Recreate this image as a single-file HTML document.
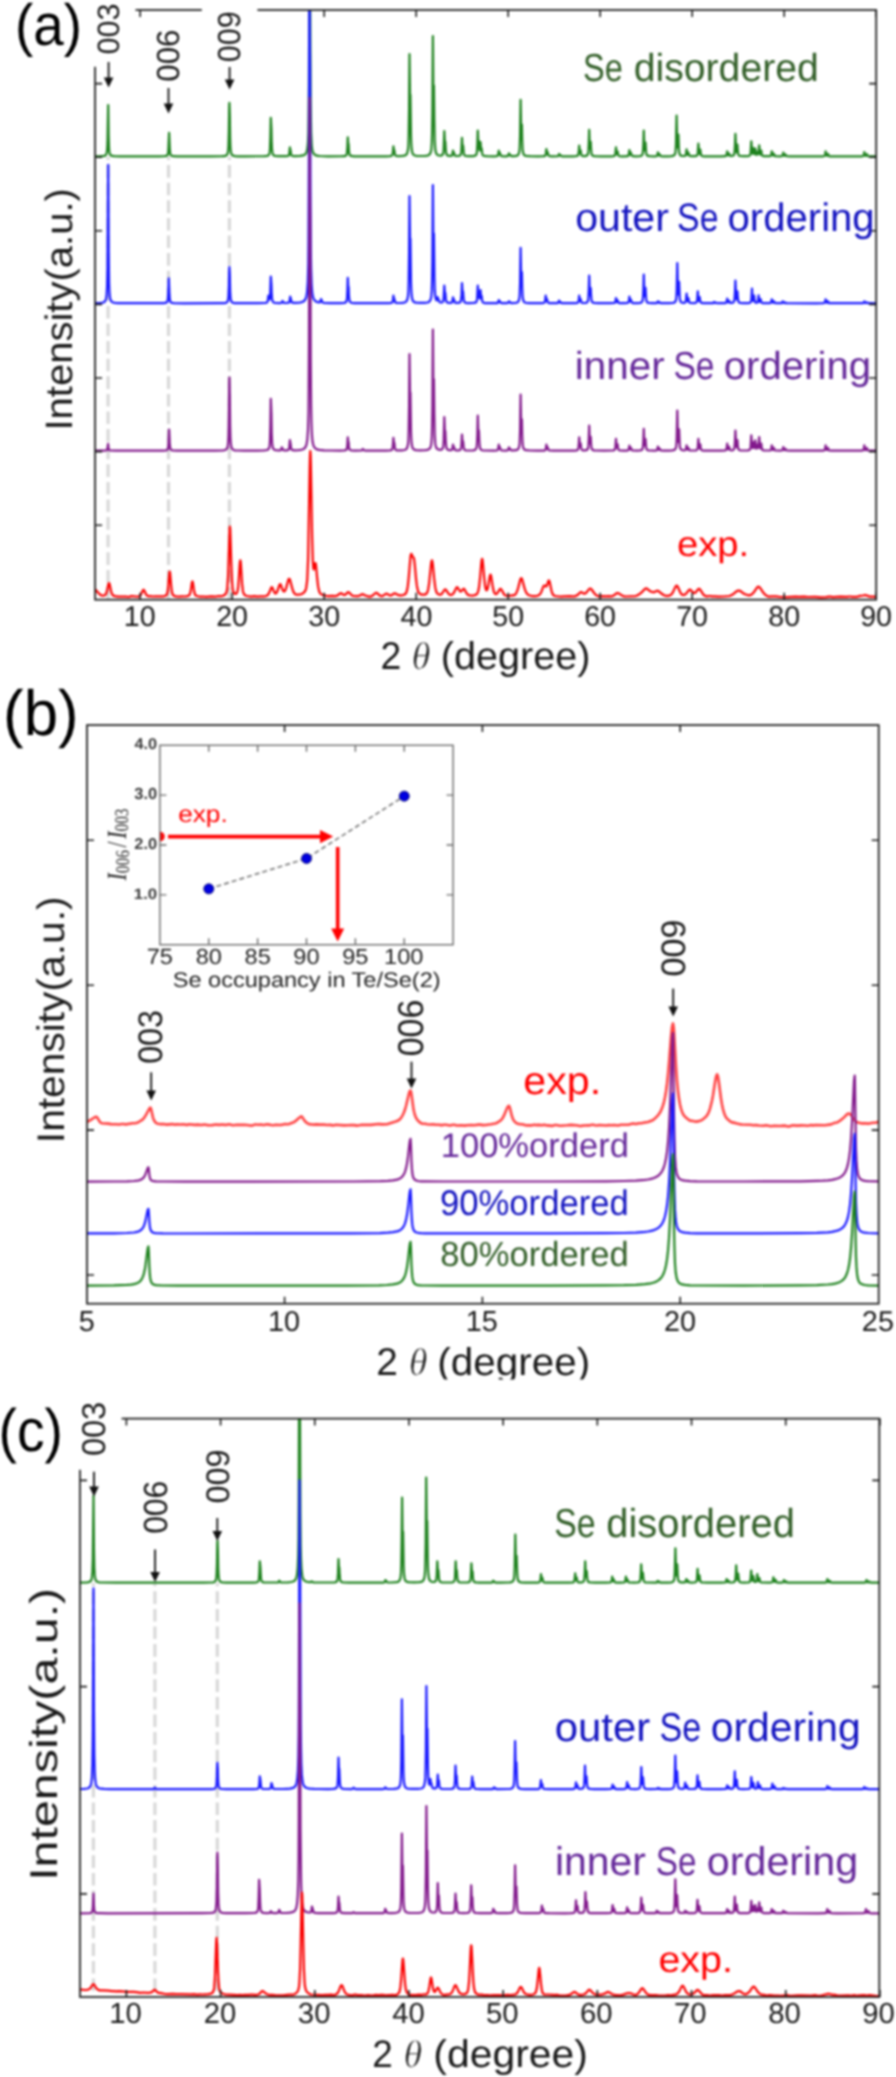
<!DOCTYPE html>
<html><head><meta charset="utf-8"><title>XRD figure</title>
<style>html,body{margin:0;padding:0;background:#fff;}svg{display:block;}</style>
</head><body>
<svg width="896" height="2077" viewBox="0 0 896 2077">
<defs><filter id="bl" filterUnits="userSpaceOnUse" x="0" y="0" width="896" height="2077" color-interpolation-filters="sRGB"><feGaussianBlur stdDeviation="0.9"/></filter></defs>
<rect width="896" height="2077" fill="#fff"/>
<g filter="url(#bl)">
<rect width="896" height="2077" fill="#fff"/>
<defs>
<clipPath id="cA"><rect x="95.1" y="10" width="781.1" height="589.7"/></clipPath>
<clipPath id="cB"><rect x="87" y="725.1" width="791.7" height="578.6"/></clipPath>
<clipPath id="cC"><rect x="80" y="1418.6" width="799.3" height="578.4"/></clipPath>
<clipPath id="clipxl"><rect x="0" y="1300" width="896" height="79.5"/></clipPath>
<clipPath id="cI"><rect x="159.9" y="745.3" width="293.2" height="199.4"/></clipPath>
</defs>
<path d="M108.1,157V599M168.5,157V599M229.4,157V599" stroke="#d8d8d8" stroke-width="3.2" stroke-dasharray="12.6 5.0" stroke-dashoffset="9.5" fill="none"/>
<g clip-path="url(#cA)"><path d="M95.1,156.4L101.1,156.2L104.3,155.9L105.1,155.6L105.8,155.0L106.1,154.6L106.6,153.4L107.1,150.1L107.5,142.9L108.2,105.1L108.6,135.4L109.0,147.6L109.2,150.6L109.6,153.0L110.1,154.4L110.5,155.1L111.1,155.5L112.1,155.9L114.1,156.2L120.1,156.3L159.1,156.4L164.1,156.2L166.1,156.0L167.0,155.5L167.5,155.0L167.9,154.0L168.2,152.5L168.5,147.4L169.1,132.8L169.7,147.8L170.1,152.6L170.5,154.6L171.1,155.4L171.6,155.8L173.1,156.2L177.1,156.3L211.1,156.4L222.1,156.2L224.1,156.1L226.0,155.6L227.1,154.7L227.8,153.0L228.2,150.1L228.5,145.6L228.9,130.5L229.2,106.4L229.4,102.8L229.8,116.1L230.1,137.8L230.4,146.8L230.8,151.3L231.1,152.9L231.6,154.3L232.1,155.0L233.1,155.7L235.1,156.1L238.1,156.3L245.1,156.3L264.1,156.2L267.0,155.9L268.1,155.5L268.5,155.2L269.3,153.9L269.7,152.2L270.0,148.4L270.4,137.4L270.8,117.8L271.4,129.2L271.7,143.4L272.1,150.2L272.5,153.1L272.9,154.3L273.6,155.3L274.1,155.6L275.2,155.9L278.1,156.2L286.1,156.2L287.6,156.0L288.2,155.8L288.8,155.3L289.0,154.9L289.3,153.5L289.9,147.3L290.2,149.3L290.5,150.1L291.1,154.3L291.4,155.2L292.0,155.8L292.8,156.0L294.3,156.1L300.1,155.9L303.1,155.4L304.1,155.0L305.1,154.4L305.7,153.8L306.4,152.6L307.2,149.6L307.9,143.7L308.4,133.0L308.6,119.1L308.9,88.8L309.5,-60.0L309.9,-1.8L310.2,12.5L310.6,99.7L311.1,132.5L311.7,145.1L312.1,148.8L312.4,150.6L313.1,152.7L314.0,154.0L315.1,154.9L316.1,155.4L318.1,155.8L320.1,156.0L328.1,156.3L342.1,156.2L344.1,156.1L345.5,155.8L346.3,155.1L346.7,154.3L347.0,152.3L347.4,146.8L347.8,137.3L348.2,143.5L348.3,144.2L348.5,144.0L348.6,144.3L348.9,150.3L349.3,153.6L349.7,154.8L350.1,155.4L351.1,155.9L354.1,156.3L364.1,156.3L386.1,156.3L389.6,156.2L391.1,156.0L392.1,155.4L392.6,154.2L393.0,151.3L393.4,146.3L393.9,150.7L394.0,150.7L394.2,150.2L394.3,150.2L394.9,154.3L395.1,155.0L395.7,155.7L396.6,156.0L398.1,156.1L402.1,156.0L404.1,155.7L405.1,155.4L406.1,154.8L406.6,154.2L407.2,153.1L408.0,149.6L408.4,145.3L408.7,135.0L409.1,107.5L409.5,54.2L410.1,102.0L410.4,94.9L410.4,95.1L411.0,136.6L411.2,142.2L411.6,148.5L412.0,151.3L412.7,153.7L413.3,154.5L414.2,155.2L416.1,155.8L420.1,156.0L425.1,155.9L427.1,155.6L428.1,155.4L429.1,154.8L430.1,153.7L430.6,152.5L431.1,150.5L431.4,148.4L431.8,143.3L432.1,133.1L432.4,113.6L432.9,36.2L433.3,89.5L433.5,97.3L433.9,85.6L434.3,120.1L434.7,140.0L435.2,148.7L435.4,150.5L436.1,153.1L436.7,154.1L437.1,154.6L438.1,155.2L439.1,155.5L440.5,155.6L441.5,155.4L442.0,155.2L442.8,154.4L443.2,153.4L443.5,150.9L443.7,148.3L444.3,131.2L444.9,144.2L445.0,144.3L445.3,141.6L445.8,150.3L446.1,152.8L446.5,154.3L447.1,155.2L448.1,155.7L449.2,155.9L450.7,155.9L451.8,155.6L452.1,155.3L452.4,154.4L453.0,150.7L453.5,153.4L453.7,153.7L454.1,153.0L454.6,155.1L455.2,155.8L456.3,156.0L458.2,156.0L459.7,155.7L460.5,155.1L460.9,154.3L461.1,153.3L461.4,150.5L462.0,137.9L462.5,147.5L462.7,148.0L463.0,145.7L463.1,145.7L463.7,152.7L463.8,153.8L464.3,155.0L464.6,155.4L465.4,155.8L466.1,156.0L468.1,156.2L473.1,156.1L474.1,155.9L475.5,155.4L476.3,154.5L476.7,153.5L477.0,150.8L477.4,143.6L477.8,130.6L478.4,144.6L478.6,144.7L478.9,141.0L479.4,148.2L479.5,149.7L479.7,150.5L479.9,149.9L480.1,148.6L480.5,142.0L481.1,149.8L481.2,150.2L481.3,150.1L481.6,148.3L482.2,153.5L482.7,155.1L483.2,155.5L484.3,156.0L487.1,156.2L494.1,156.3L496.1,156.2L497.1,156.0L497.7,155.7L498.1,155.0L498.8,150.7L499.4,153.9L499.6,154.0L500.0,153.1L500.6,155.3L501.1,155.9L501.5,156.1L502.6,156.2L505.1,156.3L507.1,156.2L507.8,156.0L508.3,155.3L508.9,153.3L509.5,155.0L509.7,155.1L510.1,154.6L510.7,155.7L511.1,156.0L511.6,156.1L513.9,156.1L516.1,155.9L517.1,155.6L518.1,154.9L518.3,154.6L519.1,152.6L519.6,149.0L519.8,144.6L520.1,135.3L520.6,99.8L521.2,133.3L521.3,135.4L521.4,135.6L521.5,134.2L521.9,124.7L522.2,140.0L522.6,149.1L522.9,151.6L523.4,153.8L524.1,155.0L524.4,155.2L525.1,155.6L526.1,155.9L530.1,156.2L538.1,156.3L543.1,156.2L544.1,156.1L544.9,155.9L545.5,155.3L545.8,154.0L546.4,149.0L546.8,152.3L547.1,153.8L547.2,153.9L547.4,153.6L547.7,152.3L548.3,155.0L548.7,155.7L549.3,156.0L550.2,156.2L552.1,156.3L557.6,156.2L558.2,156.0L558.5,155.6L559.1,154.0L559.7,155.5L559.9,155.6L560.1,155.5L560.5,155.1L561.1,156.0L562.0,156.3L573.1,156.3L575.4,156.2L576.8,156.0L577.7,155.6L578.1,155.2L578.4,154.1L578.8,150.9L579.2,145.6L579.6,150.5L579.9,152.8L580.1,153.1L580.3,152.5L580.6,150.4L581.2,154.3L581.5,155.1L581.8,155.6L582.2,155.8L582.9,156.0L584.1,156.1L586.1,155.9L586.9,155.5L587.7,154.6L588.1,153.5L588.4,150.9L588.8,143.0L589.2,129.9L589.6,142.2L589.9,148.2L590.1,148.6L590.3,147.2L590.7,141.9L591.1,149.7L591.4,153.1L591.8,154.6L592.1,155.1L593.1,155.8L595.1,156.2L601.1,156.3L611.1,156.3L613.1,156.2L614.1,156.0L614.9,155.4L615.3,154.3L616.0,147.3L616.4,152.0L616.8,153.8L617.0,153.9L617.1,153.7L617.6,151.5L618.1,154.7L618.3,155.3L618.7,155.8L619.1,156.0L621.1,156.3L624.1,156.3L627.1,156.2L627.9,155.9L628.3,155.7L628.7,154.8L629.4,150.0L629.9,153.6L630.1,154.5L630.3,154.7L630.5,154.5L631.0,152.9L631.6,155.2L632.2,155.9L633.3,156.2L636.1,156.3L639.1,156.2L641.1,155.8L641.7,155.5L642.3,154.7L642.7,153.6L643.0,151.0L643.4,143.4L643.8,130.6L644.3,146.4L644.6,149.4L644.7,150.1L644.9,149.5L645.5,142.5L646.1,152.4L646.6,154.7L647.1,155.4L648.1,155.9L650.1,156.2L654.1,156.3L656.4,156.1L656.8,155.9L657.1,155.6L657.3,155.1L657.9,152.3L658.3,154.2L658.7,155.3L658.9,155.4L659.1,155.3L659.6,154.2L660.2,155.6L660.4,155.8L661.1,156.2L663.1,156.3L668.1,156.3L671.1,156.1L672.8,155.9L674.1,155.3L674.6,154.8L675.1,153.7L675.5,152.0L675.8,147.9L676.0,143.6L676.6,115.5L677.1,140.1L677.4,145.9L677.6,147.5L677.8,146.6L678.4,134.6L678.9,149.2L679.1,151.5L679.5,153.7L679.9,154.6L680.4,155.3L681.1,155.7L682.1,155.9L684.3,156.0L685.1,155.8L685.5,155.5L685.8,154.8L686.0,154.1L686.6,149.3L687.2,153.9L687.4,154.5L687.7,154.8L687.8,154.7L688.0,154.1L688.4,152.6L689.1,155.3L689.6,155.8L689.9,156.0L692.1,156.2L694.6,156.2L696.1,156.0L696.9,155.5L697.3,155.0L697.6,153.7L697.8,152.4L698.4,143.7L698.8,149.8L699.2,153.2L699.5,153.8L699.7,153.5L700.3,149.7L700.7,153.3L701.0,154.9L701.4,155.5L702.1,156.0L704.1,156.3L708.1,156.3L721.1,156.3L725.1,156.2L726.1,155.8L726.4,155.3L726.8,153.8L727.2,151.3L727.6,154.1L728.1,155.3L728.3,155.4L728.6,155.2L729.2,153.6L729.7,155.4L730.1,155.8L730.7,156.0L731.4,156.0L733.0,155.7L733.6,155.3L734.1,154.5L734.6,151.7L735.0,145.0L735.4,133.8L735.9,147.1L736.3,151.6L736.5,152.3L736.8,151.5L737.4,144.5L737.8,150.3L738.2,153.7L738.5,154.9L738.9,155.4L740.1,156.0L743.1,156.2L747.1,156.2L749.0,155.9L749.8,155.4L750.2,154.7L750.5,153.2L750.7,151.6L751.3,141.4L751.9,151.3L752.1,152.9L752.4,153.7L752.6,153.6L752.8,152.9L753.4,148.2L753.8,152.2L754.2,153.9L754.5,154.0L754.7,153.3L755.3,148.7L755.9,153.5L756.1,154.4L756.4,154.8L756.8,154.4L757.4,152.0L757.8,153.6L757.9,154.1L758.1,154.2L758.4,153.6L758.6,152.6L759.2,145.4L759.7,151.6L760.1,154.1L760.3,154.5L760.5,154.4L760.7,154.0L761.3,150.7L761.7,153.4L762.1,155.2L762.4,155.6L762.8,155.9L764.1,156.2L769.1,156.2L770.1,156.1L770.7,155.8L771.0,155.3L771.2,154.8L771.8,151.3L772.4,154.7L772.8,155.5L773.1,155.5L773.4,155.3L773.9,153.7L774.3,155.0L774.7,155.8L775.1,156.1L776.1,156.2L780.1,156.3L781.1,156.2L782.1,156.0L782.5,155.6L782.7,155.2L783.3,152.6L783.7,154.4L784.1,155.6L784.4,155.8L784.8,155.7L785.5,154.4L786.1,155.8L786.6,156.1L787.1,156.2L790.1,156.4L801.1,156.4L819.1,156.4L823.1,156.3L824.2,156.0L824.5,155.9L824.8,155.4L825.1,154.5L825.6,151.3L826.1,154.5L826.5,155.4L826.8,155.7L827.2,155.6L827.6,155.0L828.0,153.8L828.4,155.0L828.7,155.8L829.1,156.1L830.1,156.3L852.1,156.4L862.1,156.3L863.1,156.0L863.5,155.5L863.9,154.2L864.3,152.0L864.9,155.0L865.1,155.5L865.4,155.8L865.8,155.9L866.3,155.6L866.9,154.1L867.4,155.7L868.1,156.2L870.1,156.3L876.2,156.4" stroke="rgb(30,130,30)" stroke-width="2.2" fill="none" stroke-linejoin="round" /><path d="M95.1,303.2L101.1,302.9L103.1,302.5L104.3,301.9L105.1,301.1L105.8,299.6L106.1,298.5L106.6,295.3L107.1,286.2L107.5,267.0L108.2,164.9L108.7,252.3L109.1,283.2L109.4,290.8L109.8,295.8L110.1,298.0L110.5,299.7L111.1,300.9L112.0,301.9L113.1,302.5L115.1,302.9L118.1,303.1L122.1,303.2L159.1,303.2L164.1,303.1L166.1,302.7L166.7,302.4L167.2,301.8L167.6,300.8L167.9,298.5L168.2,293.8L168.8,278.4L169.4,294.2L169.8,299.3L170.2,301.4L170.5,302.0L171.3,302.6L172.5,303.0L174.1,303.1L184.1,303.3L219.1,303.2L224.1,303.1L226.0,302.8L227.1,302.1L227.8,301.0L228.2,299.0L228.5,296.0L228.9,285.7L229.2,269.4L229.4,267.0L229.8,276.0L230.1,290.7L230.5,297.6L230.8,299.8L231.3,301.3L232.0,302.3L233.1,302.8L235.1,303.1L238.1,303.2L258.1,303.2L264.6,303.0L266.1,302.8L266.9,302.5L267.4,301.9L267.8,300.7L268.4,295.6L269.0,297.2L269.3,299.1L269.5,299.4L269.7,299.2L269.9,298.2L270.2,294.6L270.8,276.5L271.4,284.5L271.7,294.2L272.1,298.9L272.3,300.2L272.8,301.5L273.1,302.0L273.6,302.5L274.6,302.8L276.1,303.0L279.1,303.1L281.0,303.0L281.6,302.8L281.9,302.5L282.5,301.0L283.1,301.7L283.6,302.6L284.1,302.9L286.4,303.0L288.5,302.7L289.1,302.4L289.3,302.1L289.6,301.1L290.2,296.6L290.5,298.1L290.8,298.6L291.4,301.7L291.7,302.3L292.5,302.7L294.0,302.9L296.1,302.9L299.1,302.6L301.1,302.3L303.1,301.6L304.1,301.0L305.1,299.8L305.6,298.9L306.3,297.0L307.1,292.1L307.8,282.0L308.3,264.1L308.5,240.6L308.9,161.6L309.4,-60.0L309.8,37.6L310.1,69.6L310.5,208.2L310.8,249.4L311.1,268.8L311.6,284.3L312.3,293.6L313.1,297.4L313.9,299.3L315.1,300.9L316.1,301.6L318.1,302.2L319.1,302.3L319.9,302.2L320.2,302.0L320.4,301.5L321.0,299.0L321.4,300.1L321.7,300.4L322.1,301.7L322.5,302.3L323.1,302.7L324.0,302.8L330.1,303.1L340.1,303.1L344.0,302.9L344.8,302.8L345.5,302.4L346.3,301.6L346.7,300.5L347.0,297.9L347.4,290.6L347.8,277.9L348.2,286.1L348.3,287.0L348.5,286.8L348.6,287.1L348.9,295.2L349.3,299.6L349.7,301.2L350.1,301.9L351.1,302.7L352.4,303.0L354.1,303.1L360.1,303.2L385.1,303.2L389.1,303.1L391.1,303.0L392.1,302.5L392.6,301.6L393.0,299.4L393.4,295.6L393.9,298.9L394.3,298.6L394.9,301.6L395.1,302.2L395.7,302.7L396.6,302.9L398.1,303.0L402.1,302.9L404.1,302.6L405.1,302.2L406.1,301.6L406.6,301.0L407.2,299.8L408.0,296.2L408.4,291.6L408.7,280.9L409.1,252.1L409.5,196.2L410.1,246.3L410.4,238.8L410.4,239.1L411.0,282.5L411.2,288.5L411.6,295.0L412.0,297.9L412.7,300.5L413.3,301.4L414.2,302.1L416.1,302.6L420.1,302.9L425.1,302.8L427.1,302.5L428.1,302.3L429.1,301.8L430.1,300.6L430.6,299.5L431.1,297.5L431.4,295.4L431.8,290.4L432.1,280.4L432.4,261.2L432.9,185.2L433.3,237.5L433.5,245.2L433.9,233.7L434.4,277.2L434.8,290.7L435.3,296.7L436.1,299.7L436.5,300.2L436.7,300.3L437.0,299.9L437.6,297.0L438.1,299.6L438.2,299.8L438.6,299.4L439.2,301.5L439.8,302.2L440.1,302.3L441.1,302.5L442.1,302.3L442.8,301.8L443.2,301.1L443.5,299.3L443.7,297.5L444.3,285.6L444.9,294.7L445.0,294.8L445.3,292.9L445.9,299.7L446.1,300.7L446.5,301.8L446.9,302.2L447.6,302.7L449.1,302.9L450.7,302.9L451.8,302.5L452.1,302.2L452.4,301.3L453.0,297.3L453.5,300.2L453.7,300.4L454.1,299.7L454.6,302.0L455.1,302.6L456.1,302.9L457.9,302.9L459.3,302.7L460.1,302.3L460.5,301.9L460.8,301.2L461.2,299.0L461.6,294.4L462.0,283.2L462.6,294.0L462.7,294.2L463.1,291.7L463.5,298.0L463.8,300.5L464.3,301.8L464.6,302.3L465.4,302.7L466.1,302.9L468.1,303.1L473.1,303.0L475.1,302.7L475.5,302.6L476.3,302.0L476.7,301.1L477.0,299.4L477.2,297.6L477.8,285.6L478.4,295.1L478.6,295.2L478.9,292.6L479.4,297.3L479.5,298.2L479.7,298.5L480.1,296.4L480.5,290.0L481.1,297.4L481.2,297.6L481.3,297.5L481.6,295.8L482.1,300.0L482.4,301.4L482.7,302.1L483.1,302.5L483.9,302.8L485.4,303.1L489.1,303.2L495.0,303.2L497.1,303.1L497.7,302.9L498.1,302.5L498.8,300.0L499.4,301.9L499.6,301.9L500.0,301.4L500.4,302.3L500.8,302.8L501.1,303.0L502.1,303.1L506.1,303.2L507.8,303.0L508.3,302.6L508.9,301.3L509.5,302.4L509.7,302.4L510.1,302.1L510.7,302.8L511.6,303.1L514.1,303.0L516.1,302.8L517.1,302.5L518.1,301.8L518.3,301.5L519.1,299.6L519.6,296.1L519.8,291.7L520.1,282.6L520.6,247.8L521.2,280.7L521.3,282.7L521.4,282.9L521.5,281.6L521.9,272.2L522.2,287.3L522.6,296.1L522.9,298.6L523.4,300.7L524.1,301.9L524.4,302.2L525.1,302.5L526.1,302.8L530.1,303.1L538.1,303.2L542.1,303.2L543.4,303.0L544.1,302.8L544.8,302.1L545.1,301.0L545.7,295.6L546.3,300.3L546.5,300.7L546.7,300.4L547.0,299.0L547.4,301.1L547.8,302.3L548.2,302.7L549.1,303.1L553.1,303.2L557.5,303.1L558.1,302.8L558.4,302.4L559.0,300.6L559.6,302.3L559.8,302.4L560.0,302.3L560.4,301.8L560.9,302.8L561.3,303.0L561.9,303.1L573.1,303.2L575.4,303.2L577.1,303.0L577.7,302.7L578.1,302.4L578.4,301.7L578.8,299.4L579.2,295.6L579.6,299.1L579.9,300.7L580.1,300.9L580.3,300.5L580.6,299.0L581.2,301.8L581.5,302.4L581.8,302.7L582.9,303.0L584.4,303.0L586.1,302.8L586.9,302.4L587.7,301.5L588.1,300.3L588.4,297.5L588.8,289.3L589.2,275.5L589.6,288.4L589.9,294.7L590.1,295.1L590.3,293.6L590.7,288.1L591.1,296.2L591.4,299.8L591.8,301.4L592.1,301.9L593.0,302.6L594.5,303.0L598.1,303.2L610.1,303.2L614.1,303.0L614.9,302.7L615.3,302.1L616.0,298.0L616.4,300.7L616.8,301.8L617.0,301.8L617.1,301.7L617.6,300.4L618.1,302.2L618.3,302.6L618.7,302.9L619.8,303.1L621.4,303.2L625.1,303.2L627.1,303.0L628.1,302.7L628.6,301.9L629.0,299.9L629.4,296.6L629.9,300.4L630.1,301.3L630.3,301.5L630.4,301.5L630.5,301.3L631.0,299.7L631.6,302.1L632.2,302.8L633.1,303.1L634.8,303.1L638.1,303.1L640.1,302.9L641.5,302.4L642.3,301.4L642.7,300.2L643.0,297.3L643.4,288.8L643.8,274.5L644.3,292.1L644.6,295.5L644.7,296.2L644.9,295.6L645.5,287.8L646.1,298.9L646.6,301.4L647.1,302.2L648.1,302.8L649.3,303.0L652.1,303.2L656.1,303.1L657.1,302.8L657.5,302.3L657.9,301.3L658.3,302.2L658.7,302.7L659.1,302.7L659.6,302.2L660.2,302.9L661.1,303.2L669.1,303.2L672.1,303.0L673.5,302.8L674.1,302.6L675.0,302.0L675.3,301.7L675.8,300.7L676.2,299.0L676.5,295.0L676.7,290.6L677.3,263.0L677.7,282.2L678.1,293.4L678.3,294.5L678.5,293.7L679.1,281.8L679.6,295.0L679.8,298.4L680.1,300.1L680.6,301.6L681.1,302.2L682.1,302.6L683.1,302.8L684.3,302.8L685.1,302.5L685.5,302.1L685.8,301.2L686.0,300.2L686.6,293.7L687.2,299.9L687.4,300.8L687.7,301.2L687.8,301.0L688.0,300.3L688.4,298.2L689.1,301.9L689.6,302.6L689.9,302.8L691.1,303.0L694.0,303.1L695.1,303.0L696.1,302.6L696.7,302.0L697.1,300.5L697.8,291.4L698.2,297.1L698.6,300.3L698.9,300.8L699.1,300.5L699.7,297.0L700.1,300.5L700.4,301.9L700.8,302.5L701.6,302.9L703.1,303.1L705.1,303.2L712.5,303.2L713.1,303.1L713.4,302.9L714.0,302.0L714.6,302.8L715.1,303.0L715.5,302.9L715.9,302.6L716.5,303.0L717.4,303.2L722.1,303.2L725.1,303.1L726.1,302.8L726.4,302.3L726.8,300.9L727.2,298.7L727.6,301.2L728.1,302.3L728.3,302.4L728.6,302.2L729.2,300.8L729.7,302.4L730.1,302.7L730.7,302.9L731.4,302.9L733.0,302.6L733.6,302.2L734.1,301.3L734.6,298.6L735.0,291.8L735.4,280.5L735.9,294.0L736.3,298.5L736.5,299.2L736.8,298.3L737.4,291.3L737.8,297.1L738.2,300.6L738.5,301.8L738.9,302.3L740.1,302.9L743.1,303.1L748.1,303.1L749.7,302.8L750.5,302.3L750.9,301.7L751.1,301.0L751.4,298.7L752.0,288.7L752.5,298.1L752.9,300.5L753.1,300.8L753.3,300.7L753.5,300.2L754.1,295.6L754.4,299.3L754.8,301.4L755.2,302.3L755.6,302.6L756.1,302.7L757.1,302.6L757.5,302.3L757.8,301.5L758.1,300.3L758.6,295.4L759.1,300.2L759.6,301.8L759.7,301.9L759.9,301.9L760.1,301.6L760.7,299.2L761.1,301.3L761.5,302.3L762.1,302.9L763.1,303.1L769.1,303.2L770.1,303.1L770.7,302.8L771.0,302.5L771.2,302.0L771.8,299.3L772.4,302.0L772.8,302.6L773.1,302.6L773.4,302.5L773.9,301.2L774.3,302.2L774.7,302.8L775.1,303.0L776.1,303.2L780.1,303.2L781.6,303.1L782.1,302.7L782.7,301.3L783.3,302.6L783.8,303.0L784.3,302.9L784.9,302.3L785.7,303.1L787.1,303.2L816.1,303.3L823.1,303.2L824.2,303.0L824.8,302.5L825.1,301.8L825.6,299.3L826.1,301.8L826.5,302.5L826.8,302.8L827.2,302.7L827.6,302.2L828.0,301.2L828.4,302.2L828.7,302.8L829.1,303.1L830.1,303.2L862.1,303.2L863.1,303.1L863.5,302.9L863.9,302.3L864.3,301.3L864.9,302.7L865.4,303.0L866.3,302.9L866.9,302.3L867.4,303.0L868.1,303.2L876.2,303.3" stroke="rgb(25,25,255)" stroke-width="2.2" fill="none" stroke-linejoin="round" /><path d="M95.1,450.7L104.2,450.6L105.7,450.5L106.5,450.3L107.0,449.9L107.4,448.9L108.1,443.9L108.5,447.9L108.9,449.5L109.5,450.3L110.4,450.5L116.1,450.7L157.1,450.7L163.1,450.6L166.1,450.3L167.0,449.9L167.5,449.4L167.9,448.6L168.2,447.2L168.5,442.6L169.1,429.5L169.7,442.9L170.1,447.3L170.5,449.0L171.1,449.8L171.6,450.1L173.1,450.5L177.1,450.6L215.1,450.6L223.1,450.4L225.1,450.0L226.0,449.6L227.1,448.3L227.5,447.4L227.8,446.1L228.2,442.1L228.5,435.9L228.9,415.4L229.2,382.5L229.4,377.6L229.8,395.8L230.1,425.3L230.4,437.6L230.8,443.7L231.1,445.9L231.6,447.8L232.1,448.8L233.1,449.7L234.1,450.1L235.1,450.3L238.1,450.5L244.1,450.6L257.1,450.6L264.1,450.4L267.0,450.0L268.1,449.5L268.5,449.0L269.1,447.9L269.3,447.3L269.7,445.1L270.0,440.0L270.4,425.1L270.8,398.8L271.4,414.2L271.7,433.2L272.1,442.4L272.5,446.3L272.9,447.9L273.6,449.2L274.6,449.9L276.1,450.2L278.6,450.4L280.3,450.3L280.9,450.0L281.2,449.5L281.8,447.3L282.4,448.3L282.9,449.8L283.5,450.2L284.7,450.4L286.2,450.4L287.6,450.2L288.2,449.9L288.8,449.4L289.0,448.9L289.3,447.2L289.9,440.0L290.2,442.4L290.5,443.3L291.1,448.3L291.4,449.2L292.1,449.9L293.1,450.2L295.1,450.3L298.1,450.1L301.1,449.8L303.1,449.2L304.1,448.6L305.1,447.6L305.8,446.4L306.5,444.6L307.3,439.6L308.0,430.0L308.5,412.6L308.7,389.8L309.0,340.4L309.6,97.8L310.0,192.7L310.3,216.0L310.7,358.3L311.1,406.4L311.4,421.6L311.8,432.2L312.1,437.1L312.5,441.3L313.1,444.3L313.4,445.3L314.1,446.9L315.1,448.2L316.1,448.9L317.1,449.4L319.1,449.9L324.1,450.3L331.1,450.5L340.1,450.6L344.0,450.5L345.5,450.2L346.3,449.8L346.7,449.2L347.0,447.8L347.4,444.0L347.8,437.3L348.2,441.6L348.3,442.1L348.5,442.0L348.6,442.2L348.9,446.4L349.3,448.7L349.7,449.6L350.1,450.0L351.1,450.3L355.1,450.6L361.3,450.5L361.7,450.5L362.2,450.1L362.8,449.0L363.2,449.6L363.6,449.6L364.3,450.4L365.9,450.6L386.1,450.6L389.6,450.5L391.1,450.2L391.9,449.8L392.1,449.5L392.6,447.9L393.0,444.2L393.4,437.9L393.9,443.4L394.0,443.4L394.2,442.8L394.3,442.9L394.9,448.0L395.1,449.0L395.7,449.8L396.1,450.1L397.2,450.3L399.1,450.4L402.1,450.3L404.1,450.0L405.1,449.7L406.1,449.2L406.6,448.6L407.2,447.6L408.0,444.3L408.4,440.2L408.7,430.5L409.1,404.5L409.5,354.2L410.1,399.4L410.4,392.6L410.4,392.8L411.0,432.0L411.2,437.3L411.6,443.2L412.0,445.9L412.7,448.2L413.3,448.9L414.2,449.6L416.1,450.1L420.1,450.3L425.1,450.2L427.1,449.9L428.1,449.6L429.1,449.1L430.1,448.0L430.6,446.8L431.1,444.7L431.4,442.6L431.8,437.5L432.1,427.2L432.4,407.5L432.9,329.5L433.3,383.2L433.5,391.1L433.9,379.3L434.3,414.1L434.7,434.1L435.2,442.9L435.4,444.7L436.1,447.3L436.7,448.4L437.1,448.8L438.1,449.4L439.1,449.7L440.1,449.8L441.1,449.7L442.0,449.3L442.8,448.2L443.2,446.8L443.5,443.5L443.7,439.9L444.3,417.2L444.9,434.5L445.0,434.7L445.3,431.0L445.8,442.7L446.1,446.0L446.5,448.0L447.1,449.2L448.1,449.9L449.1,450.1L450.7,450.2L451.8,449.9L452.1,449.5L452.4,448.6L453.0,444.6L453.5,447.5L453.7,447.8L454.1,447.1L454.6,449.3L455.1,450.0L456.1,450.3L458.2,450.3L459.7,450.1L460.5,449.5L460.9,448.8L461.1,448.0L461.4,445.5L462.0,434.6L462.5,442.9L462.7,443.4L463.0,441.4L463.1,441.4L463.7,447.5L463.8,448.5L464.3,449.5L465.1,450.1L465.8,450.3L469.1,450.5L473.1,450.3L474.1,450.2L475.1,449.8L475.5,449.5L476.3,448.3L476.7,446.9L477.0,443.3L477.4,433.3L477.8,415.5L478.4,435.1L478.6,435.4L478.9,430.5L479.3,440.5L479.7,446.0L480.1,448.2L480.5,449.0L481.1,449.7L481.6,450.0L482.7,450.3L485.1,450.5L494.1,450.6L496.1,450.5L497.1,450.3L497.7,449.9L498.1,449.2L498.8,444.6L499.4,448.1L499.4,448.2L499.6,448.2L500.0,447.2L500.6,449.5L501.1,450.2L501.5,450.3L502.6,450.5L505.1,450.6L507.1,450.4L507.8,450.2L508.1,450.0L508.3,449.6L508.9,447.3L509.5,449.2L509.7,449.3L510.1,448.7L510.7,449.9L511.3,450.3L513.1,450.4L516.1,450.2L517.1,449.9L518.1,449.2L518.3,448.9L519.1,446.9L519.6,443.4L519.8,439.0L520.1,429.8L520.6,394.7L521.2,427.9L521.3,429.9L521.4,430.1L521.5,428.8L521.9,419.3L522.2,434.5L522.6,443.5L522.9,446.0L523.4,448.1L524.1,449.3L524.4,449.6L525.1,449.9L526.1,450.2L530.1,450.5L537.1,450.6L543.1,450.6L544.9,450.3L545.5,449.8L545.8,448.8L546.4,444.6L546.8,447.3L547.1,448.6L547.4,448.4L547.7,447.3L548.3,449.5L548.7,450.1L549.3,450.4L550.2,450.5L553.1,450.6L568.1,450.7L574.1,450.6L576.8,450.3L577.7,449.8L578.1,449.2L578.4,447.9L578.8,443.9L579.2,437.3L579.6,443.4L579.9,446.3L580.1,446.6L580.3,445.9L580.6,443.3L581.2,448.2L581.5,449.2L581.8,449.7L582.2,450.0L582.9,450.3L584.1,450.4L586.1,450.2L586.9,449.9L587.7,449.0L588.1,448.0L588.4,445.4L588.8,438.0L589.2,425.5L589.6,437.2L589.9,442.9L590.1,443.3L590.3,441.9L590.7,436.9L591.1,444.3L591.4,447.5L591.8,448.9L592.1,449.4L593.1,450.1L594.1,450.4L596.1,450.5L604.1,450.6L612.1,450.5L613.1,450.4L614.1,450.2L614.5,449.9L614.9,449.4L615.3,448.0L616.0,438.9L616.4,445.0L616.8,447.3L617.0,447.5L617.1,447.2L617.6,444.3L618.1,448.6L618.3,449.2L618.7,449.9L619.1,450.2L620.1,450.4L623.1,450.6L626.1,450.6L627.9,450.3L628.3,450.1L628.7,449.4L629.4,445.6L629.9,448.5L630.1,449.2L630.3,449.3L630.5,449.2L631.0,447.9L631.6,449.7L632.2,450.3L633.3,450.5L637.1,450.6L640.0,450.4L641.1,450.2L641.7,449.9L642.3,449.3L642.7,448.4L643.0,446.2L643.4,439.7L643.8,428.9L644.3,442.2L644.6,444.8L644.7,445.3L644.9,444.9L645.5,439.0L646.1,447.3L646.6,449.2L647.1,449.8L648.1,450.3L650.1,450.5L654.1,450.6L656.4,450.4L656.8,450.2L657.1,449.9L657.3,449.4L657.9,446.6L658.3,448.5L658.7,449.6L658.9,449.7L659.1,449.6L659.6,448.5L660.2,449.9L660.4,450.2L661.1,450.5L663.4,450.6L669.1,450.6L672.1,450.4L673.5,450.2L674.1,450.0L675.0,449.4L675.3,449.1L675.8,448.1L676.2,446.4L676.5,442.4L676.7,438.1L677.3,410.5L677.7,429.7L678.1,440.9L678.3,441.9L678.5,441.1L679.1,429.3L679.6,442.4L679.8,445.9L680.1,447.6L680.6,449.0L681.1,449.6L682.1,450.1L682.8,450.2L684.6,450.3L685.5,450.0L685.8,449.5L686.0,448.9L686.6,445.4L687.2,448.8L687.4,449.3L687.7,449.5L688.0,449.0L688.4,447.8L689.1,449.9L689.6,450.3L689.9,450.4L692.1,450.5L694.6,450.5L696.1,450.3L696.9,449.9L697.3,449.4L697.6,448.2L697.8,446.9L698.4,438.8L698.8,444.5L699.2,447.7L699.5,448.3L699.7,447.9L700.3,444.4L700.7,447.7L701.0,449.3L701.4,449.9L702.1,450.3L704.1,450.6L710.1,450.6L722.1,450.6L725.1,450.4L725.7,450.2L726.1,449.9L726.4,449.2L726.8,447.1L727.2,443.7L727.6,447.6L728.1,449.2L728.3,449.3L728.6,449.1L729.2,446.9L729.7,449.4L730.1,449.9L731.1,450.3L732.1,450.3L733.0,450.1L733.6,449.7L734.1,448.9L734.6,446.5L735.0,440.5L735.4,430.5L735.9,442.4L736.3,446.4L736.5,447.0L736.8,446.3L737.4,440.1L737.8,445.2L738.2,448.3L738.5,449.4L738.9,449.8L740.1,450.3L743.1,450.5L747.1,450.5L749.0,450.1L749.8,449.6L750.2,449.0L750.5,447.5L750.7,445.8L751.3,435.4L751.9,445.5L752.1,447.1L752.4,447.9L752.6,447.7L752.8,447.0L753.4,442.3L753.9,447.3L754.2,447.9L754.5,447.8L754.9,445.5L755.3,440.4L755.9,446.9L756.1,448.1L756.4,448.6L756.6,448.5L756.8,448.1L757.4,444.9L757.8,447.0L757.9,447.7L758.1,447.9L758.4,447.2L758.6,445.9L759.2,437.1L759.7,444.8L760.1,447.9L760.3,448.3L760.5,448.2L760.7,447.8L761.3,443.6L761.7,447.0L762.1,449.2L762.4,449.8L762.8,450.1L764.1,450.4L766.1,450.5L769.1,450.5L770.1,450.4L770.7,450.1L771.0,449.6L771.2,449.0L771.8,445.4L772.4,448.9L772.8,449.8L773.1,449.8L773.4,449.6L773.9,447.9L774.3,449.3L774.7,450.1L775.1,450.3L776.1,450.5L780.1,450.6L781.1,450.5L782.1,450.3L782.5,449.9L782.7,449.5L783.3,447.0L783.7,448.8L784.1,449.9L784.4,450.1L784.8,450.0L785.5,448.8L786.1,450.1L786.6,450.5L787.1,450.5L790.1,450.7L803.1,450.7L819.1,450.7L823.1,450.6L824.2,450.3L824.5,450.1L824.8,449.6L825.1,448.7L825.6,445.4L826.1,448.7L826.5,449.7L826.8,450.0L827.2,449.9L827.6,449.2L828.0,447.9L828.5,449.8L829.1,450.4L829.5,450.5L831.1,450.6L835.1,450.7L861.1,450.6L862.8,450.4L863.2,450.1L863.5,449.6L863.9,448.0L864.3,445.4L864.9,449.0L865.1,449.6L865.4,450.0L865.8,450.1L866.3,449.7L866.9,448.0L867.4,449.8L867.6,450.1L868.1,450.4L870.1,450.6L876.2,450.7" stroke="rgb(130,25,140)" stroke-width="2.2" fill="none" stroke-linejoin="round" /><path d="M95.1,589.1L98.2,592.8L100.0,594.5L101.1,595.2L102.1,595.6L103.1,595.7L104.1,595.5L105.1,595.1L106.0,593.9L106.3,593.2L107.1,590.3L108.3,584.7L108.6,583.5L109.0,583.1L109.4,583.5L109.7,584.7L111.1,591.2L111.7,593.2L112.1,594.2L112.6,594.9L113.1,595.4L114.1,595.9L115.1,596.1L118.0,596.6L122.1,596.5L126.1,596.7L128.1,597.0L130.1,596.6L131.1,596.1L132.1,596.1L135.6,596.5L138.1,596.6L139.1,596.4L140.1,595.8L140.6,595.1L142.8,590.5L143.2,589.9L143.6,589.7L144.1,590.2L146.1,594.5L146.6,595.2L147.6,596.0L148.1,596.2L150.1,596.2L153.1,596.5L155.1,596.4L162.1,596.4L164.5,596.1L166.1,595.4L167.1,593.8L167.8,590.5L168.1,587.6L169.2,574.7L169.4,572.5L169.7,571.6L170.0,572.4L170.1,573.4L171.1,585.3L171.7,590.3L172.1,592.9L172.3,593.6L173.1,595.2L174.1,595.9L176.1,596.3L179.1,596.6L182.1,596.3L185.1,596.5L187.1,596.2L188.2,595.8L189.1,595.3L189.6,594.6L190.3,592.7L191.0,589.1L191.8,583.3L192.1,582.0L192.4,581.5L192.7,582.1L193.0,583.4L193.8,589.2L194.5,593.0L195.2,594.9L196.1,595.8L200.1,596.7L203.1,596.5L206.1,596.8L211.1,596.3L215.1,596.6L216.9,596.3L218.1,596.0L221.1,596.2L223.1,595.7L225.1,594.5L226.1,593.3L226.3,592.9L227.1,589.6L227.3,588.0L228.1,575.7L229.4,535.0L229.6,528.9L229.9,526.6L230.2,528.9L230.4,535.0L231.2,561.5L232.1,582.9L232.5,587.6L233.1,591.1L233.8,592.9L234.1,593.2L234.7,593.7L235.1,593.9L236.1,593.8L237.1,592.5L237.7,590.2L238.2,586.7L238.9,578.0L239.7,564.6L240.0,561.5L240.3,560.4L240.6,561.5L240.9,564.7L242.1,583.9L242.9,590.9L243.1,591.8L244.1,594.4L245.1,595.2L246.1,595.7L247.1,596.0L251.1,596.6L254.1,596.2L256.1,596.4L257.1,596.6L260.1,596.3L264.1,596.3L266.1,596.0L267.4,595.3L268.5,594.0L269.6,591.8L271.1,588.0L271.4,587.5L271.8,587.2L272.1,587.3L272.4,587.7L274.1,591.8L275.1,593.3L275.8,593.4L276.2,593.1L277.1,591.8L279.3,585.4L279.8,584.5L280.2,584.1L280.6,584.5L280.8,584.9L282.4,589.3L283.1,590.7L283.6,591.3L284.1,591.4L284.6,591.2L285.1,590.6L286.1,588.1L288.1,580.7L288.6,579.2L289.0,578.8L289.2,578.8L289.8,579.4L290.1,580.2L292.1,587.9L293.1,591.0L293.8,592.5L294.8,593.8L295.3,594.2L296.1,594.6L298.1,594.7L300.4,594.5L302.2,593.8L303.1,593.2L304.3,592.1L305.1,591.0L305.8,589.5L306.1,588.5L307.1,581.1L307.3,578.2L308.1,559.4L308.3,549.5L309.7,468.6L310.0,455.9L310.3,451.0L310.6,455.5L310.9,467.9L312.1,536.7L312.8,560.6L313.3,567.9L313.7,569.5L314.1,568.6L315.1,563.3L315.5,563.1L315.9,564.6L316.1,566.4L317.3,579.5L318.1,586.4L319.3,591.8L320.1,593.3L321.1,594.2L322.1,594.6L326.1,595.8L328.1,596.1L332.1,595.8L335.1,596.2L337.1,595.6L340.0,593.5L340.9,593.2L341.5,593.3L343.5,594.8L344.1,595.0L344.6,595.0L345.1,594.8L345.9,594.2L347.4,592.6L347.9,592.3L348.4,592.2L349.1,592.5L351.1,594.6L352.1,595.5L353.4,596.0L357.8,596.1L359.1,595.7L361.7,594.4L362.8,594.2L366.0,595.7L369.1,596.6L370.0,596.7L371.1,596.4L371.7,596.1L373.4,594.8L375.2,593.2L376.2,592.8L377.1,593.1L379.1,595.0L379.9,595.6L381.1,596.1L381.7,596.2L383.1,595.7L384.9,594.4L386.2,593.7L387.2,593.8L389.2,595.1L390.4,595.5L391.1,595.4L391.7,595.1L394.0,593.5L394.5,593.4L395.5,593.5L397.1,594.5L398.8,595.2L400.0,595.4L401.7,595.3L403.1,595.0L404.8,594.4L405.1,594.2L406.1,593.0L406.8,591.2L407.8,586.2L408.8,576.9L410.4,557.5L410.8,554.8L411.2,553.8L411.6,554.3L412.2,555.9L412.7,556.8L413.3,557.3L413.7,557.9L414.1,559.4L414.8,565.0L416.1,579.3L416.8,585.2L417.1,587.1L418.1,591.3L418.8,592.7L420.0,593.9L421.1,594.4L422.1,594.6L424.1,594.6L425.3,594.4L426.1,594.0L427.1,592.7L427.5,591.8L428.1,589.7L429.1,583.6L431.1,563.9L431.5,561.5L431.9,560.3L432.1,560.5L432.3,561.4L432.8,564.5L434.1,578.2L435.3,587.7L436.3,591.7L437.1,593.2L437.8,593.9L439.1,594.6L440.1,594.7L441.1,594.4L441.6,594.1L442.1,593.5L444.3,590.0L444.8,589.5L445.3,589.4L445.8,589.7L446.3,590.3L448.1,593.2L449.5,594.5L450.3,595.0L451.1,595.0L452.0,594.7L452.8,594.1L453.7,593.0L454.5,591.6L456.1,588.2L456.5,587.6L457.1,587.3L457.5,587.4L458.0,588.0L459.1,590.0L459.9,591.2L460.3,591.4L460.8,591.5L461.2,591.4L463.2,589.0L463.7,588.8L464.1,588.9L464.7,589.8L466.1,592.4L467.0,593.8L468.1,594.9L468.7,595.2L470.3,595.5L472.1,595.6L474.1,595.3L476.1,594.6L477.1,593.7L478.1,591.6L478.7,589.1L479.1,586.6L480.1,577.5L481.3,563.4L481.7,560.1L482.1,558.9L482.5,560.0L482.9,563.2L484.1,577.0L485.1,585.8L485.5,587.9L486.1,589.8L486.5,590.3L487.1,589.9L487.5,588.9L488.5,584.3L489.7,576.9L490.1,575.2L490.5,574.6L490.9,575.4L491.3,577.3L492.5,585.2L493.5,590.4L494.1,592.2L494.5,593.1L495.1,593.8L495.5,594.0L496.1,594.1L497.1,593.4L498.0,592.2L499.5,589.6L500.0,589.0L500.5,588.8L501.0,589.1L501.5,589.7L504.1,594.4L505.1,595.3L506.1,595.6L509.1,595.9L512.1,595.4L513.1,595.4L514.1,595.2L515.1,594.6L515.5,594.2L516.1,593.3L517.1,591.1L518.1,588.1L520.1,580.4L520.7,578.7L521.1,578.2L521.3,578.1L521.9,578.8L522.1,579.2L524.3,587.4L525.1,589.9L526.1,592.3L527.3,594.0L528.1,594.7L529.0,595.2L531.1,595.8L533.1,596.1L535.1,596.1L537.1,595.8L538.1,595.5L539.0,595.0L540.1,594.0L541.0,592.6L541.5,591.4L543.5,586.2L544.1,585.5L544.5,585.5L545.8,586.4L546.1,586.5L546.5,586.2L547.1,585.0L548.2,581.5L548.6,580.6L549.0,580.4L549.4,581.2L549.8,582.6L551.5,590.8L552.1,592.8L553.0,594.7L554.0,595.6L555.0,596.0L559.1,596.5L561.1,596.6L564.1,596.3L570.1,596.2L572.1,596.3L573.4,596.4L575.1,596.3L577.1,595.3L578.4,594.2L580.1,592.5L580.9,592.1L581.4,592.2L581.9,592.4L583.4,593.4L584.1,593.6L585.1,593.5L585.9,593.0L586.7,592.2L589.1,589.1L589.5,588.8L590.2,588.6L590.9,588.8L591.6,589.5L594.1,593.0L595.9,594.9L597.2,595.7L599.1,596.4L600.7,596.4L602.1,596.1L606.1,596.4L608.1,596.2L611.1,596.3L612.1,596.2L613.1,595.8L614.1,595.2L616.5,593.3L617.1,593.0L617.7,593.0L619.1,593.6L622.2,595.6L623.1,596.0L624.1,596.4L626.2,596.5L635.1,596.1L636.2,595.8L637.1,595.5L640.1,593.6L642.1,591.9L644.2,589.6L645.1,588.8L645.8,588.5L646.1,588.4L647.2,588.8L650.1,591.2L652.1,592.0L653.1,592.2L654.1,592.2L655.0,591.8L656.2,591.1L657.1,590.8L657.8,590.8L658.6,591.2L661.8,593.8L664.1,595.2L665.1,595.6L666.2,595.9L668.1,595.9L669.1,595.7L670.1,595.3L671.1,594.6L671.9,593.8L673.1,591.9L675.4,586.9L676.0,586.0L676.6,585.6L677.2,585.9L677.8,586.8L680.1,592.0L680.9,593.4L681.8,594.4L682.6,594.8L683.1,594.9L684.1,594.9L685.4,594.3L686.9,592.7L688.6,590.5L689.3,589.8L689.9,589.6L690.5,589.9L691.1,590.4L693.1,592.6L694.1,593.1L694.4,593.1L695.1,592.8L695.9,592.1L698.1,589.3L698.5,589.0L699.1,588.8L699.7,589.1L700.3,589.8L703.1,594.2L704.1,595.3L705.1,595.9L706.1,596.2L707.1,596.3L708.8,596.0L710.1,596.0L712.1,596.3L715.1,596.3L718.1,596.7L719.1,596.7L723.8,596.5L729.1,596.0L730.1,595.7L732.1,594.8L734.1,593.4L736.1,591.7L737.1,591.0L737.8,590.7L738.8,590.6L739.8,590.8L740.8,591.3L743.1,593.2L745.1,594.3L748.1,595.2L749.1,595.4L750.1,595.2L751.1,594.8L752.6,593.6L754.1,591.9L757.0,587.6L757.8,586.9L758.6,586.7L759.4,587.1L760.1,587.9L763.1,592.4L764.6,594.1L766.1,595.4L767.1,596.0L768.8,596.6L772.1,596.4L776.1,596.4L780.1,597.0L785.1,597.2L788.1,597.1L791.1,596.8L796.1,596.7L798.6,596.9L804.1,596.6L808.1,597.0L815.1,596.8L821.1,597.3L826.1,597.1L829.1,596.6L830.1,596.6L833.1,597.1L840.3,596.6L846.1,596.9L847.1,596.9L849.1,596.5L850.1,596.5L852.3,596.8L856.3,596.8L857.1,596.8L860.1,595.9L863.1,595.5L864.3,595.2L865.1,595.2L866.1,595.3L869.1,596.4L870.3,596.7L873.1,596.7L875.1,596.9L876.2,596.9" stroke="rgb(250,0,0)" stroke-width="2.2" fill="none" stroke-linejoin="round" /></g>
<rect x="95.1" y="10" width="781.1" height="589.7" fill="none" stroke="#1e1e1e" stroke-width="1.75"/><path d="M140.2,599.7v-7M140.2,10v7M232.2,599.7v-7M232.2,10v7M324.2,599.7v-7M324.2,10v7M416.2,599.7v-7M416.2,10v7M508.2,599.7v-7M508.2,10v7M600.2,599.7v-7M600.2,10v7M692.2,599.7v-7M692.2,10v7M784.2,599.7v-7M784.2,10v7M876.2,599.7v-7M876.2,10v7M95.1,83.6h7M876.2,83.6h-7M95.1,157.2h7M876.2,157.2h-7M95.1,230.8h7M876.2,230.8h-7M95.1,304.4h7M876.2,304.4h-7M95.1,378h7M876.2,378h-7M95.1,451.6h7M876.2,451.6h-7M95.1,525.2h7M876.2,525.2h-7" stroke="#1e1e1e" stroke-width="1.6" fill="none"/>
<rect x="90" y="0" width="45.5" height="66.8" fill="#fff"/>
<rect x="201.8" y="0" width="55.6" height="64" fill="#fff"/>
<path d="M108.6,62V78.6" stroke="#111" stroke-width="1.8" fill="none"/><path d="M103.8,77.6L113.4,77.6L108.6,87.6Z" fill="#111"/>
<path d="M168.5,88V104.5" stroke="#111" stroke-width="1.8" fill="none"/><path d="M163.7,103.5L173.3,103.5L168.5,113.5Z" fill="#111"/>
<path d="M229.6,67V80.6" stroke="#111" stroke-width="1.8" fill="none"/><path d="M224.8,79.6L234.4,79.6L229.6,89.6Z" fill="#111"/>
<g clip-path="url(#cB)"><path d="M87.0,1122.1L89.0,1120.8L91.4,1119.5L94.0,1117.7L95.0,1117.2L96.0,1116.8L96.3,1116.8L97.0,1117.2L97.5,1117.9L99.3,1121.1L100.4,1122.6L101.0,1122.9L102.0,1123.3L108.0,1123.6L111.0,1124.1L114.0,1124.3L116.0,1124.2L119.0,1124.5L122.0,1124.0L123.0,1124.0L126.0,1124.4L128.0,1123.9L130.4,1123.7L132.0,1123.3L135.0,1123.3L136.0,1123.1L138.0,1122.5L141.0,1120.5L142.0,1120.0L143.0,1119.2L144.0,1118.0L146.0,1114.9L149.4,1108.5L150.0,1107.9L150.4,1107.7L150.8,1108.3L151.0,1108.8L153.0,1117.6L154.0,1120.2L155.0,1121.8L156.0,1122.9L157.0,1123.4L158.0,1123.7L160.0,1124.1L163.6,1124.1L166.0,1124.6L172.4,1124.1L174.0,1124.5L175.0,1124.6L177.0,1124.3L181.0,1124.5L183.0,1124.2L185.0,1124.5L186.0,1124.9L187.0,1124.9L189.0,1124.3L195.0,1124.9L198.0,1124.6L201.0,1125.0L202.0,1124.9L204.0,1124.5L206.0,1124.7L207.0,1125.1L209.0,1125.2L212.0,1125.1L216.0,1124.5L219.0,1124.9L222.0,1124.5L225.0,1124.9L226.0,1124.9L228.0,1124.4L229.0,1124.4L230.0,1124.5L232.0,1125.1L233.0,1125.2L237.0,1124.8L241.0,1124.9L244.0,1124.8L247.0,1125.0L250.0,1125.5L252.0,1125.6L255.0,1124.5L256.0,1124.5L258.0,1124.7L261.0,1124.5L263.0,1125.0L264.0,1125.0L265.0,1124.7L267.0,1124.3L269.0,1124.6L271.2,1125.0L273.0,1125.2L276.0,1124.8L280.0,1125.0L281.2,1124.9L285.0,1124.0L288.0,1124.2L289.0,1124.0L293.0,1122.6L294.0,1122.1L295.0,1121.4L299.2,1117.8L301.2,1116.4L301.8,1116.6L302.0,1116.8L304.0,1119.9L305.0,1121.2L307.2,1123.2L309.0,1124.1L312.0,1124.5L314.0,1124.6L317.0,1124.4L319.2,1124.6L324.0,1124.6L327.0,1125.0L330.0,1124.9L333.0,1125.4L336.0,1124.8L344.0,1125.4L348.0,1125.3L351.0,1125.0L354.0,1125.1L357.0,1125.6L359.0,1125.3L361.0,1124.9L364.0,1124.9L367.0,1124.8L369.0,1124.9L371.0,1124.9L378.0,1124.0L380.0,1124.1L382.0,1124.4L387.0,1124.2L394.0,1122.1L397.0,1121.0L399.0,1120.0L400.0,1119.1L401.0,1117.9L402.0,1116.4L403.0,1114.5L404.0,1112.3L405.0,1109.5L406.0,1106.0L409.0,1093.4L409.5,1091.9L410.0,1090.9L410.5,1090.6L411.0,1091.6L411.6,1095.3L413.3,1107.8L414.0,1111.5L415.0,1115.3L416.1,1117.9L417.0,1119.4L418.0,1120.6L419.0,1121.6L421.0,1123.1L421.7,1123.5L423.0,1123.8L425.0,1123.8L427.3,1124.2L430.0,1124.5L434.0,1124.4L436.0,1124.8L439.0,1124.8L441.0,1125.1L442.0,1125.1L444.0,1124.8L446.0,1124.8L450.0,1125.5L453.0,1124.8L454.0,1124.8L457.0,1125.5L458.0,1125.5L461.0,1125.2L465.0,1125.6L467.0,1125.3L471.0,1125.1L472.0,1125.1L474.0,1125.3L478.8,1124.6L480.0,1124.6L483.0,1125.1L486.0,1125.0L489.0,1124.5L491.0,1124.3L495.0,1123.5L496.0,1123.2L497.0,1122.8L498.0,1122.2L501.0,1120.1L502.0,1119.0L503.0,1117.5L503.8,1115.9L507.0,1108.2L508.0,1106.5L508.8,1105.9L509.0,1105.9L509.4,1106.5L510.0,1108.4L511.8,1115.8L513.0,1119.1L514.0,1120.8L514.8,1121.7L516.0,1122.9L517.8,1123.7L520.0,1124.1L522.0,1124.2L525.0,1125.1L528.0,1125.4L531.0,1125.4L534.0,1124.7L537.0,1125.1L538.8,1124.9L542.0,1125.2L544.0,1124.9L545.0,1124.9L547.0,1125.4L552.0,1125.9L555.0,1125.0L556.0,1125.0L559.0,1125.6L561.0,1125.7L567.0,1125.3L571.0,1124.9L576.0,1125.2L580.0,1126.0L581.0,1126.1L583.0,1125.6L584.0,1125.5L589.0,1125.4L592.0,1124.7L593.0,1124.8L595.0,1125.3L597.0,1125.5L598.0,1125.3L600.0,1125.1L602.0,1125.3L603.0,1125.2L606.0,1125.5L609.0,1125.1L611.0,1125.2L614.0,1125.0L618.0,1125.5L621.0,1124.7L627.0,1124.7L629.0,1124.6L633.0,1123.5L636.0,1124.1L639.0,1123.2L642.0,1123.1L645.0,1122.4L648.0,1122.0L652.0,1120.5L653.0,1120.0L654.0,1119.3L658.0,1115.3L660.0,1112.6L661.0,1110.6L662.0,1108.3L663.0,1105.4L664.0,1101.8L665.0,1097.3L666.0,1091.5L667.0,1084.0L668.0,1074.6L669.0,1063.1L671.0,1037.1L672.0,1027.2L673.0,1023.4L673.7,1027.4L674.0,1031.2L676.0,1066.6L677.0,1081.0L678.0,1091.5L679.0,1099.1L680.0,1104.5L681.0,1108.6L682.0,1111.7L683.0,1114.0L684.0,1115.6L685.0,1116.7L688.0,1119.2L690.0,1120.6L693.0,1121.0L694.0,1121.3L696.0,1121.6L699.0,1121.1L701.0,1120.4L702.0,1119.9L703.0,1119.2L705.0,1117.6L706.0,1116.6L707.0,1115.4L708.0,1113.8L709.0,1111.5L710.0,1108.6L712.0,1100.6L713.0,1095.4L715.2,1081.3L716.0,1077.1L716.2,1076.3L717.0,1074.4L717.2,1074.4L718.0,1076.4L718.8,1081.6L721.0,1098.6L722.0,1104.5L723.0,1109.1L724.0,1112.7L725.2,1115.8L726.0,1117.3L727.0,1118.6L728.0,1119.6L730.0,1121.3L732.0,1122.4L735.0,1122.9L737.0,1123.5L739.0,1123.9L741.0,1124.4L742.0,1124.5L748.0,1124.8L750.0,1124.7L752.0,1125.0L753.0,1125.2L756.0,1125.1L759.0,1125.5L763.0,1125.7L766.0,1125.4L767.0,1125.4L771.0,1126.2L774.0,1125.8L780.0,1126.0L784.0,1125.6L786.0,1125.9L788.0,1126.4L789.0,1126.5L792.0,1125.5L793.0,1125.3L796.0,1125.6L799.0,1125.6L801.0,1125.4L805.0,1125.5L807.0,1125.8L808.0,1125.7L809.0,1125.5L810.0,1125.2L811.0,1125.1L813.0,1125.4L816.0,1125.0L825.0,1125.3L831.0,1124.4L834.0,1123.1L837.0,1122.4L838.0,1122.0L840.0,1120.7L843.0,1118.3L844.0,1117.4L846.0,1115.3L847.4,1114.0L848.0,1113.7L849.0,1113.5L850.0,1113.9L851.0,1115.1L853.0,1118.1L855.0,1120.7L856.5,1122.0L858.0,1122.5L861.0,1123.3L862.0,1123.4L865.0,1123.3L868.0,1123.6L869.0,1123.6L873.0,1122.8L875.0,1122.8L876.0,1122.7L878.7,1121.5" stroke="rgb(255,67,67)" stroke-width="2.6" fill="none" stroke-linejoin="round" /><path d="M87.0,1181.6L114.0,1181.5L127.0,1181.3L134.0,1181.0L137.0,1180.7L139.0,1180.3L141.0,1179.6L142.0,1179.0L143.0,1178.2L143.9,1177.2L145.4,1174.4L147.8,1167.8L148.0,1167.5L148.4,1167.3L148.8,1169.3L149.3,1174.4L149.8,1177.2L150.2,1178.7L151.0,1180.1L152.0,1180.7L153.8,1181.2L156.0,1181.4L164.0,1181.5L185.0,1181.6L354.0,1181.5L380.5,1181.2L388.0,1180.8L393.0,1180.4L397.0,1179.6L398.5,1179.1L400.0,1178.4L401.5,1177.3L403.0,1175.7L404.5,1173.0L405.0,1171.8L406.0,1168.4L407.0,1163.5L408.0,1156.4L409.3,1144.8L409.9,1140.5L410.5,1138.9L410.9,1144.8L411.4,1160.2L411.9,1168.4L412.3,1173.0L413.0,1176.7L414.0,1178.9L415.0,1179.9L415.9,1180.4L418.0,1181.0L421.0,1181.3L425.0,1181.4L443.0,1181.5L552.0,1181.5L606.0,1181.3L624.0,1181.0L636.0,1180.6L645.0,1179.9L648.0,1179.5L651.0,1178.9L654.0,1178.0L657.0,1176.5L659.0,1175.1L661.0,1172.8L662.0,1171.3L663.0,1169.3L664.0,1166.7L665.0,1163.3L666.0,1158.5L667.0,1151.9L668.0,1142.2L669.0,1128.1L670.0,1107.3L672.0,1047.9L672.4,1038.7L673.0,1033.0L673.2,1038.7L674.0,1115.1L674.4,1135.9L675.0,1156.6L675.7,1166.7L676.0,1169.3L676.6,1172.8L677.0,1174.4L678.0,1176.9L679.0,1178.3L680.0,1179.2L682.0,1180.1L685.0,1180.7L690.0,1181.1L697.0,1181.4L744.0,1181.5L800.0,1181.3L817.0,1180.9L823.0,1180.7L828.0,1180.3L832.0,1179.8L835.0,1179.2L838.0,1178.3L840.0,1177.4L841.8,1176.2L843.2,1174.9L844.4,1173.4L845.7,1171.0L847.0,1167.6L848.0,1163.9L849.0,1158.6L850.0,1150.9L851.0,1139.5L852.0,1123.0L854.0,1081.0L854.7,1075.6L854.9,1079.7L855.6,1128.6L856.0,1149.0L856.5,1160.4L857.0,1167.5L857.4,1171.0L858.0,1174.3L859.0,1177.1L860.0,1178.6L861.0,1179.5L862.0,1180.0L863.0,1180.4L865.0,1180.8L868.0,1181.1L878.7,1181.4" stroke="rgb(130,25,140)" stroke-width="2.2" fill="none" stroke-linejoin="round" /><path d="M87.0,1233.4L114.0,1233.3L127.0,1233.0L134.0,1232.5L137.0,1231.9L139.0,1231.2L141.0,1230.0L142.0,1229.0L143.0,1227.7L143.9,1225.9L145.0,1222.7L145.4,1221.1L147.2,1212.2L147.8,1209.7L148.0,1209.2L148.4,1208.8L148.8,1212.2L149.3,1221.1L149.8,1225.9L150.2,1228.6L151.0,1230.8L152.0,1232.0L153.0,1232.6L153.8,1232.8L156.0,1233.1L163.0,1233.4L180.0,1233.5L351.0,1233.4L380.0,1233.1L388.0,1232.7L393.0,1232.2L397.0,1231.4L398.5,1230.9L400.0,1230.2L401.5,1229.1L403.0,1227.4L404.5,1224.7L405.0,1223.4L406.0,1219.9L407.0,1214.8L408.0,1207.5L409.3,1195.5L409.9,1191.1L410.5,1189.4L410.9,1195.5L411.4,1211.4L411.9,1219.9L412.3,1224.7L413.0,1228.4L414.0,1230.7L415.0,1231.8L415.9,1232.3L418.0,1232.8L421.0,1233.2L425.0,1233.3L443.0,1233.4L551.0,1233.4L606.0,1233.2L624.0,1233.0L636.0,1232.6L645.0,1231.9L648.0,1231.5L651.0,1230.9L654.0,1230.1L657.0,1228.7L659.0,1227.3L661.0,1225.2L662.0,1223.8L663.0,1221.9L664.0,1219.5L665.0,1216.2L666.0,1211.8L667.0,1205.5L668.0,1196.4L669.0,1183.1L670.0,1163.5L672.0,1107.6L672.4,1099.0L673.0,1093.6L673.2,1099.0L674.0,1170.9L674.4,1190.4L675.0,1209.9L675.7,1219.5L676.0,1221.9L676.6,1225.2L677.0,1226.7L678.0,1229.1L679.0,1230.4L680.0,1231.2L682.0,1232.1L685.0,1232.7L690.0,1233.1L697.0,1233.3L744.0,1233.4L800.0,1233.2L817.0,1232.9L828.0,1232.3L832.0,1231.8L835.0,1231.2L838.0,1230.4L840.0,1229.5L841.8,1228.4L843.2,1227.2L844.4,1225.8L845.7,1223.5L847.0,1220.4L848.0,1216.9L849.0,1211.9L850.0,1204.7L851.0,1194.0L852.0,1178.5L854.0,1139.0L854.7,1133.9L854.9,1137.7L855.6,1183.7L856.0,1202.8L856.5,1213.6L857.0,1220.3L857.4,1223.5L858.0,1226.6L859.0,1229.3L860.0,1230.7L861.0,1231.5L863.0,1232.3L865.0,1232.7L868.0,1233.0L878.7,1233.4" stroke="rgb(25,25,255)" stroke-width="2.2" fill="none" stroke-linejoin="round" /><path d="M87.0,1285.6L114.0,1285.4L127.0,1284.9L131.0,1284.6L134.0,1284.1L137.0,1283.2L139.0,1282.1L140.0,1281.3L141.0,1280.2L142.0,1278.6L143.0,1276.4L143.9,1273.6L145.0,1268.5L145.4,1266.1L147.2,1251.9L147.8,1248.0L148.0,1247.2L148.4,1246.5L148.8,1251.9L149.3,1266.1L149.8,1273.6L150.2,1277.9L151.0,1281.5L152.0,1283.4L153.0,1284.2L153.8,1284.6L156.0,1285.1L162.0,1285.5L178.0,1285.6L346.0,1285.6L379.0,1285.3L387.0,1285.0L393.0,1284.4L397.0,1283.6L398.5,1283.1L400.0,1282.4L401.5,1281.3L403.0,1279.6L404.5,1276.9L405.0,1275.6L406.0,1272.2L407.0,1267.1L408.0,1259.8L409.3,1247.9L409.9,1243.5L410.5,1241.8L410.9,1247.9L411.4,1263.7L411.9,1272.2L412.3,1276.9L413.0,1280.6L414.0,1283.0L415.0,1284.0L415.9,1284.5L418.0,1285.1L421.0,1285.4L425.0,1285.5L442.0,1285.6L549.0,1285.6L605.0,1285.4L624.0,1285.2L636.0,1284.8L645.0,1284.2L651.0,1283.3L654.0,1282.5L657.0,1281.2L659.0,1279.9L661.0,1277.9L662.0,1276.6L663.0,1274.8L664.0,1272.5L665.0,1269.5L666.0,1265.3L667.0,1259.4L668.0,1250.9L669.0,1238.4L670.0,1220.0L672.0,1167.4L672.4,1159.4L673.0,1154.3L673.2,1159.4L674.0,1226.9L674.4,1245.3L675.0,1263.5L675.7,1272.5L676.6,1277.9L677.0,1279.3L678.0,1281.5L679.0,1282.8L680.0,1283.5L682.0,1284.4L685.0,1284.9L690.0,1285.3L697.0,1285.5L744.0,1285.6L800.0,1285.4L817.0,1285.1L828.0,1284.5L832.0,1284.1L835.0,1283.6L838.0,1282.8L840.0,1281.9L841.8,1280.9L843.2,1279.7L844.4,1278.4L845.7,1276.3L847.0,1273.3L848.0,1270.0L849.0,1265.3L850.0,1258.5L851.0,1248.4L852.0,1233.8L854.0,1196.5L854.7,1191.7L854.9,1195.3L855.6,1238.7L856.0,1256.8L856.5,1266.9L857.0,1273.2L857.4,1276.3L858.0,1279.2L859.0,1281.8L860.0,1283.1L861.0,1283.8L863.0,1284.6L865.0,1285.0L868.0,1285.3L878.7,1285.6" stroke="rgb(30,130,30)" stroke-width="2.2" fill="none" stroke-linejoin="round" /></g>
<rect x="87" y="725.1" width="791.7" height="578.6" fill="none" stroke="#1e1e1e" stroke-width="1.75"/><path d="M284.6,1303.7v-7M284.6,725.1v7M482.4,1303.7v-7M482.4,725.1v7M680.2,1303.7v-7M680.2,725.1v7M87,840.3h7M878.7,840.3h-7M87,985.2h7M878.7,985.2h-7M87,1130.1h7M878.7,1130.1h-7M87,1275h7M878.7,1275h-7" stroke="#1e1e1e" stroke-width="1.6" fill="none"/>
<path d="M151.2,1072.3V1091.4" stroke="#111" stroke-width="1.8" fill="none"/><path d="M146.4,1090.4L156,1090.4L151.2,1100.4Z" fill="#111"/>
<path d="M411.5,1061.7V1079.5" stroke="#111" stroke-width="1.8" fill="none"/><path d="M406.7,1078.5L416.3,1078.5L411.5,1088.5Z" fill="#111"/>
<path d="M673.2,988.6V1007.6" stroke="#111" stroke-width="1.8" fill="none"/><path d="M668.4,1006.6L678,1006.6L673.2,1016.6Z" fill="#111"/>
<rect x="159.9" y="745.3" width="293.2" height="199.4" fill="#fff"/>
<path d="M208.77,888.868L306.51,858.46L404.25,796.147" stroke="#777" stroke-width="1.6" stroke-dasharray="5 3" fill="none"/>
<path d="M168,836.6H321" stroke="#ff0000" stroke-width="3.6"/><path d="M320,829.9L333.2,836.6L320,843.3Z" fill="#ff0000"/>
<path d="M337.7,847V929" stroke="#ff0000" stroke-width="3.6"/><path d="M331.2,928.5L344.2,928.5L337.7,941.6Z" fill="#ff0000"/>
<g clip-path="url(#cI)"><circle cx="159.9" cy="836.5" r="4.8" fill="#ff0000"/></g>
<circle cx="208.77" cy="888.868" r="5" fill="#0000e0" stroke="#000060" stroke-width="0.8"/>
<circle cx="306.51" cy="858.46" r="5" fill="#0000e0" stroke="#000060" stroke-width="0.8"/>
<circle cx="404.25" cy="796.147" r="5" fill="#0000e0" stroke="#000060" stroke-width="0.8"/>
<rect x="159.9" y="745.3" width="293.2" height="199.4" fill="none" stroke="#6a6a6a" stroke-width="1.4"/><path d="M208.77,944.7v-6.5M208.77,745.3v6.5M257.64,944.7v-6.5M257.64,745.3v6.5M306.51,944.7v-6.5M306.51,745.3v6.5M355.38,944.7v-6.5M355.38,745.3v6.5M404.25,944.7v-6.5M404.25,745.3v6.5M159.9,894.85h6.5M453.1,894.85h-6.5M159.9,845h6.5M453.1,845h-6.5M159.9,795.15h6.5M453.1,795.15h-6.5" stroke="#6a6a6a" stroke-width="1.4" fill="none"/>
<path d="M93.4,1583.2V1996.6M154.9,1583.2V1996.6M217.3,1583.2V1996.6" stroke="#d8d8d8" stroke-width="3.2" stroke-dasharray="12.6 5.0" stroke-dashoffset="9.5" fill="none"/>
<g clip-path="url(#cC)"><path d="M80.0,1582.6L87.0,1582.4L88.0,1582.3L89.6,1581.8L90.0,1581.6L91.0,1580.6L91.3,1580.0L91.9,1577.7L92.4,1571.9L92.8,1559.8L93.5,1495.8L93.9,1547.3L94.3,1567.8L94.7,1574.9L95.1,1578.0L95.8,1580.4L97.0,1581.7L97.4,1581.8L99.0,1582.3L102.0,1582.5L116.0,1582.7L204.0,1582.6L211.0,1582.5L213.0,1582.3L214.0,1582.1L215.1,1581.4L215.6,1580.8L215.9,1580.0L216.3,1577.7L216.6,1574.2L217.0,1563.4L217.3,1543.6L217.5,1540.9L217.9,1551.5L218.2,1568.2L218.6,1576.2L218.9,1578.7L219.4,1580.4L220.0,1581.4L221.0,1582.1L223.0,1582.4L226.0,1582.6L243.0,1582.7L254.0,1582.6L256.0,1582.4L257.5,1582.0L258.3,1581.3L258.7,1580.4L259.0,1578.3L259.4,1572.1L259.8,1561.3L260.4,1567.7L261.0,1578.5L261.5,1580.9L262.0,1581.6L262.7,1582.1L264.0,1582.4L266.0,1582.5L277.0,1582.5L278.0,1582.4L278.4,1582.2L278.7,1581.9L279.2,1580.7L279.8,1581.3L280.3,1582.1L281.0,1582.4L283.6,1582.5L288.0,1582.3L291.0,1582.0L293.0,1581.5L294.0,1581.1L295.0,1580.3L295.5,1579.6L296.2,1578.3L297.0,1574.8L297.7,1567.6L298.2,1555.4L298.5,1537.9L298.7,1503.7L299.3,1330.0L299.7,1399.9L300.0,1418.9L300.4,1514.6L300.7,1545.4L301.0,1558.2L301.5,1569.5L302.3,1576.0L303.0,1578.6L303.8,1580.0L305.0,1581.0L306.0,1581.5L307.9,1582.0L310.2,1582.2L311.1,1582.0L311.7,1581.4L313.0,1582.2L313.6,1582.4L319.0,1582.5L333.0,1582.5L335.0,1582.3L336.2,1581.9L337.0,1581.1L337.4,1580.1L337.7,1577.7L338.0,1573.9L338.5,1559.0L338.9,1567.1L339.0,1567.8L339.2,1567.4L339.3,1567.7L339.7,1575.2L340.0,1579.0L340.4,1580.8L340.8,1581.4L341.6,1582.0L342.0,1582.2L344.0,1582.5L349.0,1582.6L383.0,1582.6L384.0,1582.4L384.6,1582.1L385.0,1581.4L385.4,1580.0L385.9,1581.2L386.3,1581.0L387.0,1582.2L388.0,1582.5L392.0,1582.5L396.0,1582.2L398.0,1581.8L399.0,1581.1L400.0,1579.5L400.6,1577.1L401.0,1572.9L401.3,1564.9L401.7,1539.9L402.1,1497.7L402.5,1531.4L402.7,1538.7L403.0,1531.9L403.0,1531.7L403.1,1532.0L403.6,1565.8L404.0,1574.0L404.6,1578.5L405.0,1579.8L405.3,1580.5L406.0,1581.2L407.0,1581.8L409.0,1582.2L414.0,1582.4L419.0,1582.2L421.0,1581.9L422.0,1581.6L423.0,1580.9L423.4,1580.3L424.0,1579.1L424.7,1575.7L425.1,1571.2L425.4,1560.7L425.7,1543.0L426.2,1477.6L426.7,1526.7L426.8,1532.4L427.2,1521.1L427.7,1558.4L428.0,1568.8L428.4,1574.7L429.0,1578.6L429.5,1580.0L430.0,1580.7L431.0,1581.5L432.0,1581.8L433.5,1582.0L435.0,1581.7L435.8,1581.0L436.2,1580.1L436.5,1578.0L436.7,1575.8L437.3,1561.3L437.9,1572.5L438.0,1572.6L438.4,1570.2L439.0,1579.0L439.5,1580.9L439.9,1581.5L440.6,1582.0L442.0,1582.3L448.0,1582.5L452.0,1582.3L453.4,1582.0L454.0,1581.5L454.6,1580.3L455.0,1577.6L455.7,1561.3L456.3,1573.0L456.4,1573.2L456.5,1573.1L456.8,1570.4L457.2,1576.8L457.6,1579.8L458.0,1581.2L458.3,1581.6L459.1,1582.1L460.0,1582.3L462.0,1582.5L467.0,1582.5L469.0,1582.1L469.9,1581.4L470.3,1580.5L470.6,1578.6L470.8,1576.5L471.4,1563.3L472.0,1574.4L472.2,1574.5L472.6,1571.6L473.0,1577.8L473.3,1580.1L473.7,1581.2L474.0,1581.7L474.8,1582.2L476.4,1582.5L479.0,1582.6L491.0,1582.6L492.0,1582.5L492.4,1582.2L492.8,1581.7L493.2,1580.7L493.8,1581.8L494.0,1581.9L494.4,1581.6L495.0,1582.3L496.0,1582.6L501.0,1582.6L508.0,1582.5L510.0,1582.4L512.0,1581.9L513.0,1581.2L513.8,1579.5L514.3,1576.1L514.7,1567.5L515.3,1534.5L515.7,1556.1L516.0,1565.3L516.1,1565.5L516.2,1564.2L516.6,1555.8L517.2,1573.7L517.6,1578.5L518.1,1580.5L518.9,1581.5L520.0,1582.1L521.0,1582.3L525.0,1582.6L532.0,1582.6L537.0,1582.6L539.0,1582.3L539.5,1582.1L539.9,1581.7L540.2,1580.9L540.6,1578.3L541.0,1574.0L541.6,1579.5L541.8,1579.8L542.0,1579.5L542.4,1577.9L543.0,1581.3L543.3,1581.8L544.0,1582.3L546.2,1582.6L554.0,1582.7L569.0,1582.6L572.9,1582.4L573.7,1582.1L574.0,1581.7L574.4,1580.7L574.8,1578.0L575.2,1573.4L575.6,1577.7L575.9,1579.8L576.1,1579.9L576.3,1579.4L576.7,1577.6L577.2,1580.9L577.5,1581.6L577.8,1582.0L578.2,1582.2L579.0,1582.4L580.0,1582.4L582.0,1582.3L582.9,1582.0L583.7,1581.3L584.0,1580.6L584.4,1578.2L584.8,1571.9L585.2,1561.3L585.6,1571.2L585.9,1576.3L586.0,1576.5L586.1,1576.6L586.3,1575.4L586.7,1571.1L587.1,1576.7L587.5,1580.0L588.0,1581.5L588.2,1581.7L589.0,1582.2L591.0,1582.5L595.0,1582.6L606.0,1582.6L610.0,1582.5L611.0,1582.1L611.4,1581.4L611.8,1579.7L612.2,1576.7L612.7,1580.0L613.0,1581.0L613.2,1581.1L613.3,1580.9L613.8,1579.5L614.5,1581.8L614.9,1582.3L615.3,1582.4L617.0,1582.6L621.0,1582.6L623.0,1582.5L624.4,1582.3L625.0,1581.7L625.3,1581.1L625.9,1576.7L626.4,1580.3L626.7,1581.0L626.8,1581.2L627.0,1581.0L627.5,1579.5L628.1,1581.6L628.7,1582.3L630.0,1582.5L634.0,1582.6L637.4,1582.5L638.9,1582.1L639.7,1581.5L640.0,1580.9L640.4,1578.9L640.8,1573.5L641.2,1564.4L641.6,1573.1L642.0,1577.8L642.1,1578.4L642.3,1578.1L642.9,1572.9L643.5,1579.5L643.7,1580.5L644.0,1581.4L644.4,1581.9L645.2,1582.3L647.0,1582.5L655.6,1582.6L656.5,1582.5L656.8,1582.3L657.1,1582.0L657.6,1580.8L658.0,1581.7L658.4,1582.2L658.8,1582.2L659.4,1581.7L660.0,1582.4L660.9,1582.6L668.0,1582.6L671.6,1582.3L673.0,1581.7L673.4,1581.3L673.9,1580.5L674.3,1579.0L674.6,1575.6L674.8,1571.9L675.4,1548.3L675.8,1564.7L676.2,1574.0L676.5,1575.5L676.6,1574.6L677.2,1564.4L677.7,1574.9L678.0,1578.7L678.4,1580.4L679.0,1581.6L680.0,1582.1L681.0,1582.3L684.0,1582.4L685.2,1582.2L685.5,1581.8L685.7,1581.5L686.3,1579.0L686.9,1581.4L687.1,1581.7L687.4,1581.9L687.8,1581.5L688.2,1580.7L688.7,1582.0L689.0,1582.2L689.7,1582.5L692.0,1582.6L694.0,1582.5L695.3,1582.2L696.0,1581.9L696.5,1581.2L696.8,1579.8L697.0,1578.6L697.6,1568.8L698.0,1575.8L698.4,1579.3L698.7,1580.0L698.9,1579.6L699.5,1575.3L700.0,1579.8L700.3,1581.0L700.6,1581.8L701.4,1582.3L703.0,1582.5L707.0,1582.6L721.0,1582.6L724.8,1582.5L725.5,1582.3L725.8,1581.9L726.2,1580.8L726.6,1579.0L727.1,1581.2L727.5,1581.9L727.7,1582.0L728.0,1581.9L728.6,1580.7L729.2,1582.0L729.8,1582.4L732.0,1582.5L733.9,1582.1L734.4,1581.8L735.0,1581.0L735.4,1579.1L735.8,1574.0L736.2,1565.4L736.7,1576.4L737.1,1579.3L737.3,1579.7L737.5,1579.6L737.7,1579.0L738.2,1573.6L738.6,1578.0L739.0,1580.7L739.4,1581.6L739.8,1582.0L741.0,1582.4L744.0,1582.6L747.4,1582.5L748.9,1582.3L749.7,1581.9L750.1,1581.4L750.4,1580.1L750.6,1578.8L751.2,1570.5L751.6,1576.4L752.0,1580.0L752.3,1580.6L752.5,1580.5L752.7,1580.1L753.3,1576.2L754.0,1580.9L754.4,1581.7L755.0,1582.0L755.6,1582.0L756.0,1581.8L756.5,1580.8L756.9,1578.2L757.3,1574.0L757.9,1579.8L758.3,1581.1L758.4,1581.2L758.7,1581.2L758.9,1580.9L759.4,1578.1L759.8,1580.3L760.2,1581.7L760.6,1582.1L761.0,1582.3L762.0,1582.5L769.6,1582.6L771.1,1582.5L772.0,1582.3L772.6,1581.6L772.8,1581.0L773.4,1577.3L774.0,1580.9L774.2,1581.4L774.5,1581.8L774.8,1581.8L775.0,1581.6L775.6,1579.9L776.0,1581.3L776.4,1582.1L777.0,1582.4L778.0,1582.6L781.0,1582.6L782.9,1582.4L783.4,1581.8L784.0,1580.0L784.6,1581.8L785.0,1582.2L785.5,1582.3L785.7,1582.1L786.2,1581.3L787.0,1582.4L788.0,1582.6L812.0,1582.7L825.0,1582.6L826.0,1582.4L826.6,1581.9L827.0,1580.9L827.4,1579.0L828.0,1581.5L828.3,1582.0L828.7,1582.2L829.1,1582.2L829.5,1581.7L829.8,1580.8L830.2,1581.7L830.6,1582.3L831.2,1582.5L832.0,1582.6L864.3,1582.6L865.4,1582.4L865.8,1582.1L866.2,1581.3L866.6,1580.0L867.2,1581.8L867.7,1582.3L868.1,1582.4L868.6,1582.2L869.2,1581.3L869.8,1582.2L870.7,1582.6L879.3,1582.7" stroke="rgb(30,130,30)" stroke-width="2.2" fill="none" stroke-linejoin="round" /><path d="M80.0,1789.0L84.0,1788.9L87.0,1788.5L88.0,1788.2L89.0,1787.7L89.6,1787.2L90.0,1786.7L91.0,1784.3L91.3,1783.0L91.9,1777.6L92.4,1764.3L92.8,1736.2L93.5,1588.4L93.9,1707.3L94.3,1754.7L94.7,1771.1L95.1,1778.3L95.8,1784.0L96.0,1784.6L97.0,1786.8L97.4,1787.2L98.0,1787.7L99.0,1788.2L101.0,1788.7L104.0,1788.9L110.0,1789.1L152.5,1789.1L153.6,1789.1L154.0,1788.9L154.3,1788.6L154.9,1787.7L155.5,1788.6L155.9,1788.9L156.6,1789.1L158.0,1789.2L206.0,1789.2L211.0,1789.1L214.0,1788.8L215.0,1788.4L215.8,1787.5L216.2,1786.0L216.5,1783.8L216.9,1776.4L217.2,1764.5L217.4,1762.8L217.8,1769.5L218.1,1780.0L218.5,1785.1L218.8,1786.6L219.3,1787.8L220.0,1788.5L221.0,1788.8L223.0,1789.0L226.0,1789.1L244.0,1789.2L254.0,1789.1L256.0,1789.0L257.5,1788.8L258.3,1788.3L258.7,1787.8L259.0,1786.5L259.4,1782.8L259.8,1776.3L260.4,1780.2L261.0,1786.6L261.5,1788.1L262.0,1788.5L262.7,1788.8L264.2,1789.0L267.0,1789.0L269.0,1788.9L270.0,1788.7L270.6,1788.2L270.9,1787.2L271.5,1783.0L271.8,1784.3L272.1,1784.9L272.5,1787.1L272.9,1788.2L273.2,1788.6L274.4,1788.9L277.0,1789.0L283.0,1789.0L287.0,1788.8L290.0,1788.6L292.0,1788.2L293.0,1787.9L294.0,1787.4L295.0,1786.5L295.7,1785.5L296.4,1783.8L297.2,1779.5L297.9,1770.8L298.4,1755.8L298.7,1734.4L298.9,1692.6L299.5,1480.3L299.9,1565.8L300.2,1585.3L300.7,1723.3L301.0,1748.2L301.3,1763.8L301.8,1774.4L302.5,1781.0L303.0,1783.5L303.3,1784.4L304.0,1785.8L305.0,1787.0L306.0,1787.7L308.0,1788.3L310.0,1788.6L314.0,1788.9L319.0,1789.0L328.0,1789.1L333.0,1788.9L335.0,1788.7L336.2,1788.1L337.0,1787.1L337.4,1785.7L337.7,1782.6L338.0,1777.4L338.5,1757.6L338.9,1768.4L339.0,1769.4L339.2,1768.8L339.3,1769.2L339.7,1779.2L340.0,1784.3L340.4,1786.6L340.8,1787.5L341.6,1788.3L342.3,1788.6L344.0,1788.9L351.2,1789.1L352.0,1789.0L352.7,1788.8L353.0,1788.6L353.5,1787.7L353.9,1788.2L354.3,1788.2L354.9,1788.8L356.0,1789.1L382.0,1789.1L383.7,1789.0L384.4,1788.7L384.8,1788.2L385.2,1787.3L385.7,1788.1L386.1,1788.0L386.7,1788.7L387.0,1788.9L388.0,1789.0L390.0,1789.0L394.0,1788.9L396.0,1788.7L398.0,1788.1L399.0,1787.3L399.6,1786.3L400.0,1785.2L400.4,1783.2L400.8,1779.4L401.0,1774.7L401.3,1760.3L401.9,1699.3L402.3,1734.9L402.5,1742.6L402.8,1735.5L402.9,1735.6L403.4,1771.3L403.6,1776.8L404.0,1782.3L404.4,1784.7L405.0,1786.6L405.7,1787.6L406.7,1788.2L408.0,1788.6L412.0,1788.9L418.0,1788.8L421.0,1788.5L422.0,1788.2L423.0,1787.6L423.6,1786.8L424.1,1785.8L424.9,1782.3L425.3,1777.9L425.6,1767.6L425.9,1750.2L426.4,1686.2L426.9,1734.3L427.0,1739.8L427.4,1728.8L428.0,1768.8L428.2,1775.0L428.6,1781.0L429.0,1783.8L429.3,1784.5L429.6,1784.6L429.9,1783.6L430.4,1779.0L431.0,1783.8L431.1,1783.9L431.4,1783.2L431.9,1786.3L432.2,1787.2L432.7,1787.9L433.7,1788.4L435.0,1788.4L435.5,1788.4L436.3,1787.9L436.7,1787.3L437.0,1786.1L437.2,1784.4L437.8,1774.6L438.4,1782.2L438.5,1782.3L438.9,1780.6L439.4,1786.2L439.6,1787.1L440.0,1787.9L440.4,1788.3L441.0,1788.6L442.0,1788.8L447.0,1789.0L451.0,1788.9L452.0,1788.8L453.2,1788.4L454.0,1787.6L454.3,1786.7L454.7,1784.2L455.0,1780.4L455.5,1765.6L456.1,1778.6L456.2,1778.8L456.3,1778.6L456.6,1775.6L457.0,1782.7L457.4,1786.0L457.7,1787.4L458.0,1787.9L458.9,1788.6L461.0,1789.0L467.0,1789.0L469.6,1788.8L470.7,1788.3L471.1,1787.8L471.4,1786.5L471.6,1785.2L472.2,1776.6L472.8,1783.8L473.0,1783.9L473.4,1782.0L473.7,1785.5L474.1,1787.5L474.5,1788.2L475.0,1788.6L475.6,1788.9L477.2,1789.0L480.0,1789.1L492.0,1789.1L492.9,1789.0L493.2,1788.8L493.6,1788.2L494.0,1787.3L494.6,1788.4L494.8,1788.4L495.2,1788.1L496.0,1788.9L497.0,1789.1L508.0,1789.0L510.0,1788.8L511.3,1788.6L512.0,1788.3L512.6,1787.9L513.0,1787.4L513.6,1786.0L514.0,1783.7L514.3,1779.2L514.7,1764.9L515.1,1741.1L515.7,1769.9L515.8,1771.9L516.0,1770.8L516.4,1762.4L517.0,1780.2L517.4,1785.0L517.9,1787.0L518.7,1788.0L520.0,1788.7L521.0,1788.8L525.0,1789.1L533.0,1789.1L537.1,1789.1L539.0,1788.8L539.8,1788.2L540.1,1787.3L540.5,1784.5L540.9,1780.0L541.5,1785.8L541.7,1786.2L541.9,1785.8L542.3,1784.1L542.6,1786.6L543.0,1788.0L543.4,1788.5L543.8,1788.8L544.5,1789.0L549.0,1789.1L565.0,1789.2L572.0,1789.1L574.0,1788.9L574.9,1788.4L575.2,1787.7L575.6,1785.7L576.0,1782.3L576.4,1785.5L576.8,1787.1L576.9,1787.1L577.0,1787.0L577.5,1785.4L578.0,1787.9L578.3,1788.3L578.6,1788.6L580.0,1788.9L582.0,1788.7L583.0,1788.2L583.5,1787.6L583.9,1786.6L584.2,1784.4L584.6,1777.3L585.0,1765.6L585.4,1776.6L585.7,1782.2L585.9,1782.4L586.0,1782.2L586.5,1776.4L587.0,1784.1L587.3,1786.3L587.6,1787.6L588.0,1788.1L589.0,1788.7L591.0,1789.0L594.0,1789.1L606.0,1789.2L610.4,1789.0L611.5,1788.7L611.8,1788.2L612.2,1786.9L612.6,1784.6L613.1,1787.1L613.4,1787.9L613.6,1788.0L613.7,1787.8L614.2,1786.7L614.8,1788.4L615.3,1788.9L616.5,1789.1L619.0,1789.1L623.0,1789.1L624.8,1788.9L625.6,1788.7L626.0,1788.4L626.3,1787.7L626.7,1785.6L627.1,1782.0L627.6,1786.3L627.9,1787.2L628.0,1787.4L628.2,1787.2L628.7,1785.3L629.3,1787.9L629.5,1788.3L630.0,1788.7L630.9,1789.0L632.0,1789.0L635.0,1789.1L637.5,1788.9L639.0,1788.5L639.8,1787.8L640.0,1787.3L640.5,1784.6L640.9,1778.0L641.3,1767.1L641.7,1777.6L642.1,1783.3L642.2,1784.0L642.4,1783.6L643.0,1777.4L643.6,1785.4L644.0,1787.4L644.5,1788.2L645.1,1788.6L646.0,1788.9L650.0,1789.1L656.7,1789.0L657.2,1788.8L657.8,1788.0L658.2,1788.5L658.6,1788.9L659.0,1788.9L659.6,1788.5L660.1,1788.9L661.0,1789.1L668.0,1789.1L671.5,1788.8L673.0,1788.2L673.3,1787.8L673.8,1787.0L674.2,1785.6L674.5,1782.2L674.7,1778.6L675.3,1755.5L675.7,1771.6L676.1,1780.7L676.4,1782.1L676.5,1781.3L677.1,1771.3L677.6,1781.6L678.0,1785.9L678.3,1787.0L678.6,1787.8L679.0,1788.2L680.0,1788.6L680.9,1788.8L683.0,1788.8L683.7,1788.6L684.1,1788.4L684.4,1787.7L684.6,1787.0L685.2,1782.6L685.8,1786.9L686.0,1787.6L686.3,1787.8L686.5,1787.6L686.7,1787.1L687.1,1785.7L687.6,1788.0L688.0,1788.6L688.6,1788.8L690.9,1789.0L693.7,1789.0L695.2,1788.7L696.0,1788.3L696.4,1787.7L696.7,1786.3L696.9,1784.9L697.5,1775.4L698.0,1783.8L698.3,1785.8L698.6,1786.5L698.8,1786.1L699.4,1781.9L699.8,1785.4L700.2,1787.5L700.5,1788.3L701.3,1788.8L703.0,1789.0L707.0,1789.1L721.0,1789.1L725.0,1789.0L726.0,1788.8L726.4,1788.3L726.8,1787.2L727.2,1785.3L727.7,1787.6L728.1,1788.3L728.3,1788.4L728.6,1788.3L729.2,1787.1L729.6,1788.0L730.0,1788.6L731.0,1788.9L732.5,1788.6L733.3,1788.0L733.7,1787.3L734.0,1785.5L734.4,1780.2L734.8,1771.4L735.3,1782.6L735.7,1785.7L736.0,1786.1L736.3,1785.4L736.8,1779.8L737.2,1784.4L737.6,1787.1L738.0,1788.0L738.4,1788.5L739.0,1788.8L740.0,1788.9L743.0,1789.1L747.5,1789.0L749.0,1788.8L749.8,1788.4L750.2,1787.9L750.5,1786.7L750.7,1785.4L751.3,1777.0L751.9,1785.1L752.3,1786.9L752.4,1787.1L752.6,1787.1L752.8,1786.6L753.4,1782.8L753.8,1785.8L754.2,1787.7L754.5,1788.3L755.0,1788.6L755.6,1788.7L756.2,1788.6L756.8,1788.3L757.1,1787.6L757.5,1785.5L757.9,1782.0L758.5,1786.8L758.9,1787.9L759.3,1787.9L759.5,1787.7L760.0,1785.4L760.4,1787.2L760.8,1788.3L761.2,1788.7L761.6,1788.9L763.0,1789.1L769.0,1789.1L770.1,1789.0L771.0,1788.8L771.3,1788.6L771.6,1788.0L771.8,1787.4L772.4,1783.6L773.0,1787.3L773.2,1787.9L773.5,1788.3L773.8,1788.3L774.0,1788.0L774.6,1786.3L775.0,1787.8L775.4,1788.5L776.0,1788.9L777.0,1789.1L780.0,1789.1L782.2,1789.1L782.7,1788.8L783.3,1788.0L784.1,1788.9L784.8,1789.0L785.5,1788.6L786.3,1789.0L787.8,1789.2L825.0,1789.1L826.0,1788.9L826.5,1788.5L826.9,1787.6L827.3,1786.0L827.9,1788.2L828.2,1788.6L828.6,1788.8L829.0,1788.7L829.4,1788.3L829.7,1787.5L830.1,1788.4L830.5,1788.8L831.0,1789.0L832.0,1789.1L862.0,1789.1L863.0,1789.0L863.5,1788.7L863.9,1788.1L864.3,1787.0L864.9,1788.5L865.4,1788.9L866.0,1788.9L866.3,1788.8L866.9,1788.1L867.5,1788.8L868.4,1789.1L879.3,1789.2" stroke="rgb(25,25,255)" stroke-width="2.2" fill="none" stroke-linejoin="round" /><path d="M80.0,1913.3L89.6,1913.1L91.0,1912.8L91.9,1912.2L92.4,1910.9L92.8,1908.1L93.5,1893.6L93.9,1905.3L94.3,1909.9L94.7,1911.5L95.1,1912.2L95.8,1912.8L97.0,1913.1L100.0,1913.2L108.0,1913.3L202.0,1913.2L211.0,1913.0L213.0,1912.7L214.0,1912.4L215.0,1911.5L215.5,1910.5L215.8,1909.4L216.2,1906.0L216.5,1901.0L216.9,1883.9L217.2,1856.7L217.4,1852.7L217.8,1868.1L218.1,1892.3L218.5,1903.9L218.8,1907.4L219.3,1910.0L220.0,1911.6L221.0,1912.4L222.0,1912.8L223.0,1912.9L226.0,1913.1L246.0,1913.2L254.0,1913.0L255.9,1912.7L256.8,1912.2L257.6,1911.1L258.0,1909.7L258.3,1906.4L258.7,1896.8L259.1,1879.8L259.7,1889.8L260.1,1902.0L260.4,1908.2L260.6,1909.5L261.0,1911.0L261.4,1911.8L262.0,1912.3L262.9,1912.8L264.0,1912.9L267.0,1913.1L269.3,1913.0L269.9,1912.9L270.2,1912.6L270.8,1911.2L271.4,1911.8L271.9,1912.7L272.5,1913.0L275.0,1913.1L277.5,1913.0L278.3,1912.6L278.6,1912.1L279.2,1909.9L279.6,1910.7L279.8,1910.9L280.3,1912.3L281.0,1912.8L283.0,1913.0L287.0,1912.9L290.0,1912.6L292.0,1912.2L293.0,1911.9L294.0,1911.4L295.0,1910.5L295.6,1909.6L296.3,1907.9L297.1,1903.6L297.8,1894.8L298.3,1879.8L298.6,1858.3L298.8,1816.4L299.4,1603.4L299.8,1689.2L300.1,1708.7L300.5,1829.8L301.0,1878.4L301.2,1887.9L301.6,1897.1L302.0,1902.3L302.4,1905.0L303.0,1907.9L303.9,1909.9L305.0,1911.2L306.0,1911.8L307.0,1912.1L309.0,1912.5L310.0,1912.5L310.9,1912.1L311.2,1911.6L311.4,1910.9L312.0,1906.5L312.4,1908.4L312.8,1909.0L313.3,1911.6L313.5,1912.1L313.9,1912.5L314.3,1912.7L315.8,1913.0L318.0,1913.1L328.0,1913.2L334.0,1913.1L335.5,1912.9L336.2,1912.7L337.0,1912.1L337.4,1911.4L337.7,1909.7L338.0,1907.0L338.5,1896.5L338.9,1902.2L339.0,1902.7L339.2,1902.5L339.3,1902.7L339.7,1907.9L340.0,1910.7L340.4,1911.9L340.8,1912.4L342.0,1912.9L345.0,1913.2L352.0,1913.2L352.9,1912.9L353.5,1912.2L353.9,1912.6L354.3,1912.6L355.0,1913.1L356.6,1913.2L377.0,1913.2L382.9,1913.1L383.8,1912.9L384.4,1912.3L384.8,1911.0L385.2,1908.8L385.7,1910.8L386.1,1910.5L386.7,1912.4L387.0,1912.7L387.6,1913.0L391.0,1913.1L396.0,1912.8L398.0,1912.3L399.0,1911.6L399.6,1910.7L400.0,1909.7L400.4,1908.0L400.8,1904.6L401.0,1900.5L401.3,1887.7L401.9,1833.5L402.3,1865.1L402.5,1871.9L402.8,1865.6L402.9,1865.7L403.4,1897.4L403.6,1902.3L404.0,1907.1L404.4,1909.3L405.0,1911.0L405.7,1911.8L407.0,1912.5L409.0,1912.9L414.0,1913.0L419.0,1912.8L421.0,1912.5L422.0,1912.2L423.0,1911.6L423.6,1910.9L424.1,1909.8L424.9,1906.2L425.3,1901.6L425.6,1890.8L425.9,1872.7L426.4,1806.0L426.9,1856.2L427.0,1861.9L427.4,1850.5L427.9,1888.5L428.2,1898.7L428.6,1905.1L429.0,1908.3L429.7,1910.5L430.0,1911.0L431.0,1911.9L432.0,1912.3L434.0,1912.5L435.0,1912.3L435.5,1912.0L436.0,1911.5L436.3,1911.0L436.7,1909.8L437.0,1907.2L437.2,1903.6L437.8,1883.0L438.3,1898.0L438.5,1899.2L438.9,1895.6L439.3,1905.7L439.6,1909.1L440.0,1910.9L440.4,1911.7L441.0,1912.3L441.6,1912.6L443.0,1912.9L445.0,1913.0L451.0,1913.0L453.0,1912.7L454.0,1911.9L454.4,1911.1L454.7,1909.1L454.9,1907.1L455.5,1893.7L456.0,1904.2L456.2,1904.6L456.6,1902.0L457.2,1909.5L457.4,1910.6L457.7,1911.8L458.0,1912.2L458.9,1912.7L459.3,1912.8L461.0,1913.0L463.0,1913.1L467.0,1913.0L468.0,1912.8L469.0,1912.3L469.7,1911.4L470.0,1910.5L470.4,1907.4L470.8,1899.2L471.2,1885.4L471.8,1901.3L472.0,1901.5L472.4,1897.4L472.7,1905.1L473.1,1909.6L473.5,1911.2L474.0,1912.1L474.6,1912.6L476.2,1913.0L480.0,1913.2L489.0,1913.2L490.7,1913.1L491.8,1913.0L492.2,1912.7L492.7,1911.8L493.3,1908.8L493.9,1911.4L494.0,1911.5L494.1,1911.5L494.5,1910.7L495.1,1912.4L495.6,1912.9L496.0,1913.0L499.0,1913.2L507.0,1913.1L510.0,1912.9L511.3,1912.7L512.0,1912.4L512.6,1912.0L513.0,1911.5L513.6,1910.2L514.0,1907.8L514.3,1903.3L514.7,1889.1L515.1,1865.3L515.7,1894.0L515.8,1896.1L516.0,1895.0L516.4,1886.5L517.0,1904.3L517.4,1909.1L517.9,1911.1L518.7,1912.1L520.0,1912.8L521.0,1912.9L525.0,1913.2L533.0,1913.2L538.1,1913.2L540.0,1912.9L540.8,1912.4L541.1,1911.7L541.5,1909.4L541.9,1905.5L542.5,1910.4L542.7,1910.7L542.9,1910.4L543.3,1909.0L543.6,1911.1L544.0,1912.2L544.4,1912.7L545.0,1913.0L546.0,1913.1L549.0,1913.2L565.0,1913.3L571.0,1913.2L573.7,1912.9L574.5,1912.4L574.9,1911.9L575.2,1910.6L575.6,1906.8L576.0,1900.4L576.4,1906.3L576.8,1909.4L576.9,1909.5L577.0,1909.3L577.5,1906.2L578.0,1910.9L578.3,1911.7L578.6,1912.3L579.0,1912.6L580.0,1912.9L581.6,1912.9L583.0,1912.6L584.0,1911.6L584.3,1911.0L584.6,1908.9L585.0,1903.1L585.4,1892.0L585.8,1901.9L586.1,1907.0L586.3,1907.2L586.5,1906.0L586.9,1901.7L587.3,1907.3L587.7,1910.6L588.0,1911.8L588.4,1912.3L589.2,1912.8L591.0,1913.1L596.0,1913.2L607.0,1913.2L610.4,1913.0L611.0,1912.8L611.5,1912.4L611.8,1911.6L612.2,1909.1L612.6,1905.0L613.1,1909.6L613.4,1911.0L613.4,1911.1L613.6,1911.1L613.7,1910.8L614.2,1908.8L614.9,1912.1L615.3,1912.7L616.0,1913.0L618.0,1913.2L622.0,1913.2L624.0,1913.2L625.6,1912.9L626.0,1912.6L626.5,1911.7L627.1,1907.4L627.6,1910.9L627.9,1911.7L628.0,1911.8L628.2,1911.7L628.7,1910.1L629.3,1912.2L629.5,1912.5L630.0,1912.9L632.0,1913.2L635.0,1913.2L637.5,1913.1L639.0,1912.8L639.8,1912.3L640.0,1911.9L640.5,1910.0L640.9,1905.3L641.3,1897.5L641.7,1905.0L642.1,1909.1L642.2,1909.6L642.4,1909.3L643.0,1904.8L643.6,1910.6L644.0,1912.0L644.5,1912.6L645.3,1912.9L647.0,1913.1L652.0,1913.2L655.3,1913.1L656.0,1912.8L656.2,1912.5L656.8,1910.7L657.2,1911.9L657.6,1912.6L658.0,1912.6L658.6,1911.9L659.1,1912.8L660.0,1913.1L667.0,1913.2L670.0,1913.1L671.5,1912.9L673.0,1912.3L673.3,1911.9L673.8,1911.1L674.2,1909.7L674.5,1906.3L674.7,1902.6L675.3,1879.3L675.7,1895.6L676.1,1904.7L676.4,1906.2L676.5,1905.3L677.1,1895.2L677.6,1905.6L678.0,1910.0L678.3,1911.1L678.6,1911.9L679.0,1912.3L680.0,1912.8L680.9,1912.9L682.9,1913.0L684.1,1912.9L684.6,1912.4L685.2,1910.7L685.6,1911.9L686.0,1912.6L686.3,1912.7L686.5,1912.6L687.1,1911.9L687.6,1912.8L688.2,1913.1L690.0,1913.2L693.7,1913.1L695.2,1912.9L696.0,1912.4L696.4,1911.8L696.7,1910.5L696.9,1909.1L697.5,1899.8L698.0,1908.0L698.3,1910.0L698.6,1910.6L698.8,1910.2L699.4,1906.2L699.8,1909.6L700.2,1911.7L700.5,1912.4L701.3,1912.9L703.0,1913.1L707.0,1913.2L721.0,1913.2L725.0,1913.1L726.0,1912.8L726.4,1912.4L726.8,1911.1L727.2,1909.0L727.7,1911.6L728.1,1912.3L728.3,1912.5L728.6,1912.3L729.2,1911.0L729.6,1912.0L730.0,1912.7L730.4,1912.9L731.0,1913.0L732.5,1912.7L733.3,1912.2L733.7,1911.5L734.0,1909.8L734.4,1904.8L734.8,1896.5L735.3,1907.1L735.7,1910.0L736.0,1910.4L736.3,1909.7L736.8,1904.5L737.2,1908.7L737.6,1911.3L738.0,1912.2L738.4,1912.6L739.0,1912.9L740.0,1913.1L743.0,1913.2L747.5,1913.1L749.0,1912.8L749.8,1912.4L750.2,1911.9L750.5,1910.6L750.7,1909.3L751.3,1900.8L751.9,1909.0L752.1,1910.2L752.4,1911.1L752.6,1910.9L752.8,1910.5L753.4,1906.4L754.0,1910.5L754.2,1910.9L754.5,1910.8L754.9,1908.8L755.3,1905.0L755.7,1908.9L756.1,1911.1L756.4,1911.6L756.7,1911.6L756.8,1911.3L757.4,1908.6L757.8,1910.3L758.0,1910.9L758.2,1910.9L758.4,1910.5L758.6,1909.5L759.2,1902.4L759.7,1909.0L760.0,1910.7L760.2,1911.3L760.3,1911.4L760.6,1911.4L760.8,1911.0L761.3,1907.7L761.7,1910.4L762.1,1912.0L762.5,1912.6L762.9,1912.8L764.0,1913.1L769.0,1913.2L770.0,1913.1L770.7,1912.8L771.0,1912.5L771.2,1911.9L771.8,1909.0L772.2,1911.1L772.6,1912.3L772.9,1912.6L773.3,1912.5L774.0,1911.0L774.4,1912.1L774.8,1912.8L775.1,1913.0L776.0,1913.2L780.0,1913.2L782.0,1913.1L782.5,1912.7L782.7,1912.5L783.3,1910.7L783.7,1912.0L784.1,1912.7L784.4,1912.9L784.8,1912.9L785.5,1911.9L786.0,1912.7L786.3,1913.0L787.8,1913.2L818.0,1913.3L825.0,1913.2L826.0,1912.9L826.5,1912.4L826.9,1911.1L827.3,1909.0L827.9,1911.9L828.2,1912.5L828.6,1912.7L829.0,1912.6L829.4,1912.1L829.7,1911.1L830.3,1912.6L830.9,1913.0L831.3,1913.1L837.0,1913.3L863.0,1913.2L864.5,1913.0L864.9,1912.9L865.2,1912.4L865.6,1911.1L866.0,1909.0L866.6,1911.9L866.8,1912.4L867.1,1912.7L867.5,1912.8L868.0,1912.6L868.6,1911.1L869.2,1912.6L869.4,1912.8L870.0,1913.1L872.0,1913.3L879.3,1913.3" stroke="rgb(130,25,140)" stroke-width="2.2" fill="none" stroke-linejoin="round" /><path d="M80.0,1989.7L82.0,1989.6L84.6,1990.0L86.0,1990.0L88.0,1989.6L89.0,1989.2L90.1,1988.4L91.0,1987.3L92.5,1984.8L93.0,1984.3L93.4,1984.2L93.8,1984.3L94.3,1984.8L96.0,1987.7L97.0,1988.9L97.8,1989.5L99.0,1990.2L100.0,1990.4L103.0,1990.3L108.0,1990.6L112.0,1991.1L114.0,1991.1L116.0,1991.4L119.0,1991.2L125.0,1991.6L128.0,1991.9L134.0,1991.9L138.0,1992.4L140.0,1992.8L143.0,1992.5L148.0,1992.8L150.0,1992.6L151.7,1992.1L152.7,1991.4L154.0,1990.1L154.7,1989.8L155.5,1990.3L157.0,1991.9L157.7,1992.5L158.7,1992.9L161.0,1993.2L165.0,1994.0L167.0,1994.2L173.0,1993.8L176.0,1994.2L179.0,1994.1L182.0,1994.2L191.0,1994.4L194.0,1994.1L197.0,1994.6L200.0,1994.3L203.0,1994.5L204.6,1994.3L208.0,1994.2L211.0,1993.6L212.0,1993.1L213.0,1992.1L214.0,1989.1L214.2,1987.7L215.0,1976.5L216.1,1944.6L216.4,1939.6L216.6,1937.8L216.8,1939.6L217.0,1942.6L218.0,1971.6L218.4,1980.1L219.0,1987.4L220.0,1991.5L220.2,1991.8L221.4,1993.0L223.0,1993.8L225.0,1994.3L234.0,1994.8L237.5,1995.2L240.0,1994.9L242.0,1995.1L245.0,1994.9L248.0,1994.9L251.0,1994.7L252.5,1994.7L255.0,1994.9L256.0,1994.9L258.0,1994.5L259.0,1994.1L260.0,1993.3L261.5,1991.5L262.0,1991.2L262.5,1991.0L263.0,1991.1L263.5,1991.5L265.0,1992.9L266.2,1993.7L268.0,1994.5L270.0,1994.9L272.0,1994.9L275.0,1995.1L283.0,1995.3L289.0,1994.6L293.0,1994.6L294.2,1994.3L295.0,1993.9L296.8,1992.5L298.1,1990.6L299.0,1986.9L299.4,1982.8L300.1,1969.5L300.7,1944.2L301.5,1905.1L301.7,1896.1L302.0,1892.7L302.3,1896.1L302.5,1905.1L303.3,1944.1L303.9,1969.3L304.6,1982.5L305.0,1986.5L306.0,1990.5L307.0,1992.0L308.0,1992.9L309.8,1994.1L311.0,1994.5L318.0,1994.8L321.0,1995.2L322.0,1995.2L326.0,1994.8L328.0,1994.9L331.0,1994.7L334.0,1995.0L335.0,1994.8L336.0,1994.3L337.0,1993.7L338.0,1992.5L339.0,1990.4L340.5,1986.4L341.0,1985.4L341.5,1985.1L342.0,1985.4L342.5,1986.2L344.0,1990.3L345.0,1992.4L346.0,1993.7L346.5,1994.0L347.5,1994.5L351.5,1995.3L353.0,1995.2L354.5,1994.5L356.0,1994.6L357.5,1995.2L361.0,1995.0L365.0,1995.5L368.0,1995.1L372.0,1995.5L376.0,1994.9L378.0,1995.2L379.0,1995.2L381.0,1994.8L382.0,1994.8L385.0,1995.2L386.0,1995.3L388.0,1995.1L390.0,1995.2L392.0,1994.9L395.0,1995.1L396.5,1994.8L398.1,1993.9L399.0,1992.8L399.7,1990.9L400.0,1989.6L400.5,1986.2L401.0,1981.1L402.3,1963.1L402.6,1959.8L402.9,1958.6L403.2,1959.8L403.5,1962.9L405.0,1983.0L405.3,1985.8L406.0,1990.2L407.0,1992.8L407.7,1993.6L409.0,1994.5L410.0,1994.9L415.0,1995.2L419.0,1994.7L422.0,1994.8L424.0,1994.3L426.2,1994.3L427.0,1993.9L427.8,1992.9L428.6,1990.5L429.4,1986.2L430.4,1979.6L430.7,1978.1L431.0,1977.5L431.3,1978.0L431.6,1979.5L433.0,1988.3L433.4,1990.0L434.0,1991.5L434.2,1991.7L434.5,1991.9L435.0,1991.7L435.6,1991.0L437.0,1988.3L437.4,1987.9L437.8,1987.7L438.2,1987.9L438.7,1988.6L440.0,1991.5L441.0,1993.2L442.2,1994.3L443.0,1994.6L444.4,1994.8L450.0,1994.1L450.5,1993.9L451.0,1993.5L452.0,1992.2L453.0,1990.1L454.5,1986.2L455.0,1985.4L455.5,1985.1L456.0,1985.5L456.2,1985.8L458.0,1990.1L459.0,1992.0L460.0,1993.2L461.0,1993.8L462.2,1994.2L464.0,1994.2L465.2,1994.0L466.0,1993.6L467.0,1992.8L468.0,1990.3L468.2,1989.3L469.0,1982.2L469.7,1970.4L470.6,1951.3L470.9,1946.9L471.2,1945.3L471.5,1946.8L471.8,1951.2L473.0,1975.9L473.4,1982.6L474.0,1987.8L474.2,1989.1L475.0,1992.0L475.7,1993.0L477.2,1994.1L479.0,1994.7L480.5,1994.5L482.0,1994.6L483.0,1994.9L485.0,1995.2L488.0,1995.1L489.0,1995.3L491.0,1995.4L493.0,1995.2L499.0,1995.1L503.0,1995.3L507.0,1994.9L510.8,1995.0L514.0,1994.7L515.8,1994.2L517.0,1993.2L518.0,1991.6L519.8,1987.8L520.3,1987.1L520.8,1986.9L521.3,1987.2L521.8,1988.0L524.0,1992.5L525.0,1993.5L525.8,1994.0L528.3,1994.7L530.8,1994.8L532.8,1994.5L534.0,1994.0L535.0,1993.4L535.8,1992.2L536.8,1988.3L537.6,1981.6L538.6,1971.2L538.9,1968.8L539.2,1967.9L539.5,1968.8L539.8,1971.2L541.0,1983.7L541.6,1988.6L542.0,1990.8L542.4,1992.2L543.0,1993.5L544.0,1994.4L545.0,1994.5L548.0,1994.5L554.0,1994.9L555.2,1995.0L557.0,1994.7L559.0,1995.2L560.0,1995.6L562.0,1995.6L563.0,1995.5L566.0,1995.6L568.0,1995.2L570.0,1994.6L571.4,1993.8L573.3,1992.3L574.3,1991.9L574.8,1992.0L575.3,1992.2L577.0,1993.6L578.0,1994.3L579.3,1994.8L581.0,1994.9L583.4,1994.5L585.0,1993.9L586.0,1993.1L588.2,1990.4L588.8,1989.9L589.3,1989.8L589.8,1989.9L590.6,1990.5L592.4,1992.6L593.9,1993.7L595.4,1994.4L597.0,1994.7L600.0,1994.7L602.4,1994.3L604.8,1993.6L607.0,1992.2L608.0,1991.9L608.4,1992.0L609.4,1992.4L611.0,1993.5L612.4,1994.3L613.6,1994.7L614.9,1994.9L619.4,1995.3L621.0,1995.2L624.0,1994.4L627.0,1993.3L628.5,1993.0L630.3,1993.2L632.0,1993.8L633.3,1994.5L635.0,1994.9L636.3,1994.7L637.0,1994.4L637.8,1993.8L639.0,1992.4L641.1,1989.1L641.7,1988.5L642.3,1988.2L642.9,1988.5L643.5,1989.2L645.3,1991.9L646.8,1993.7L648.0,1994.5L649.0,1994.9L651.3,1995.2L656.0,1995.0L659.0,1995.5L665.0,1995.5L668.0,1995.1L671.0,1995.4L676.0,1994.4L677.0,1993.9L678.0,1993.0L679.5,1990.9L681.4,1986.9L682.0,1986.0L682.6,1985.7L683.0,1985.8L683.8,1987.0L686.0,1991.6L687.1,1993.1L688.0,1993.8L688.6,1994.1L690.0,1994.4L691.0,1994.4L693.0,1993.8L694.5,1992.7L696.3,1990.7L697.0,1990.1L697.5,1989.9L698.1,1990.1L698.7,1990.5L702.0,1994.2L703.0,1994.8L704.0,1995.1L707.0,1995.1L710.0,1995.5L713.0,1995.1L714.0,1995.1L716.0,1995.2L719.0,1995.1L722.0,1995.5L725.0,1995.1L728.0,1995.2L731.0,1994.8L732.8,1994.3L734.8,1993.1L737.2,1991.5L738.0,1991.2L738.8,1991.0L739.6,1991.1L740.4,1991.5L743.0,1993.4L744.0,1993.9L744.8,1994.1L746.0,1994.1L746.8,1993.8L748.0,1993.0L749.0,1992.1L750.1,1990.9L752.2,1987.7L752.9,1986.9L753.6,1986.6L754.3,1986.9L754.8,1987.4L758.0,1992.1L759.0,1993.2L760.0,1993.9L761.0,1994.4L762.0,1994.7L764.0,1994.9L767.0,1995.5L769.0,1995.2L770.0,1995.2L774.6,1995.7L778.0,1995.5L781.0,1995.8L787.0,1995.2L790.0,1995.8L791.0,1995.8L798.0,1995.4L802.0,1995.4L810.0,1995.7L812.0,1995.6L813.0,1995.3L815.0,1995.1L818.0,1995.8L819.0,1995.9L821.0,1995.7L824.0,1994.8L828.0,1993.9L828.8,1993.8L830.0,1994.0L832.0,1994.7L835.0,1994.9L837.0,1995.4L838.0,1995.5L841.0,1995.6L848.0,1995.4L851.0,1995.7L854.0,1995.0L857.0,1995.7L863.0,1995.2L864.0,1995.2L866.0,1995.4L867.0,1995.5L869.0,1995.2L870.0,1995.2L877.0,1996.0L879.3,1996.0" stroke="rgb(250,0,0)" stroke-width="2.2" fill="none" stroke-linejoin="round" /></g>
<rect x="80" y="1418.6" width="799.3" height="578.4" fill="none" stroke="#1e1e1e" stroke-width="1.75"/><path d="M126.4,1997v-7M126.4,1418.6v7M220.59,1997v-7M220.59,1418.6v7M314.78,1997v-7M314.78,1418.6v7M408.97,1997v-7M408.97,1418.6v7M503.16,1997v-7M503.16,1418.6v7M597.35,1997v-7M597.35,1418.6v7M691.54,1997v-7M691.54,1418.6v7M785.73,1997v-7M785.73,1418.6v7M879.92,1997v-7M879.92,1418.6v7M80,1480.4h7M879.3,1480.4h-7M80,1686.6h7M879.3,1686.6h-7M80,1893.9h7M879.3,1893.9h-7" stroke="#1e1e1e" stroke-width="1.6" fill="none"/>
<rect x="70" y="1395" width="51.6" height="74.8" fill="#fff"/>
<path d="M94,1471.8V1487.5" stroke="#111" stroke-width="1.8" fill="none"/><path d="M89.2,1486.5L98.8,1486.5L94,1496.5Z" fill="#111"/>
<path d="M155.1,1549.6V1572.9" stroke="#111" stroke-width="1.8" fill="none"/><path d="M150.3,1571.9L159.9,1571.9L155.1,1581.9Z" fill="#111"/>
<path d="M217.3,1518V1532.1" stroke="#111" stroke-width="1.8" fill="none"/><path d="M212.5,1531.1L222.1,1531.1L217.3,1541.1Z" fill="#111"/>
<text transform="translate(15.111,44.616) scale(0.937,1)" font-size="58.495" font-family="'Liberation Sans', sans-serif" fill="#000" text-rendering="geometricPrecision">(a)</text>
<text transform="translate(633.631,81.2) scale(1.001,1)" font-size="39.167" font-family="'Liberation Sans', sans-serif" fill="#34602a" text-rendering="geometricPrecision">disordered</text>
<text transform="translate(583.072,81.2) scale(0.831,1)" font-size="39.167" font-family="'Liberation Sans', sans-serif" fill="#34602a" text-rendering="geometricPrecision">Se</text>
<text transform="translate(727.496,231.2) scale(1.01,1)" font-size="39.722" font-family="'Liberation Sans', sans-serif" fill="#1414c0" text-rendering="geometricPrecision">ordering</text>
<text transform="translate(575.257,231.2) scale(1.034,1)" font-size="39.722" font-family="'Liberation Sans', sans-serif" fill="#1414c0" text-rendering="geometricPrecision">outer</text>
<text transform="translate(677.11,231.2) scale(0.851,1)" font-size="39.722" font-family="'Liberation Sans', sans-serif" fill="#1414c0" text-rendering="geometricPrecision">Se</text>
<text transform="translate(723.794,378.9) scale(1.025,1)" font-size="39.167" font-family="'Liberation Sans', sans-serif" fill="#65289a" text-rendering="geometricPrecision">ordering</text>
<text transform="translate(574.771,378.9) scale(1.032,1)" font-size="39.167" font-family="'Liberation Sans', sans-serif" fill="#65289a" text-rendering="geometricPrecision">inner</text>
<text transform="translate(673.423,378.9) scale(0.856,1)" font-size="39.167" font-family="'Liberation Sans', sans-serif" fill="#65289a" text-rendering="geometricPrecision">Se</text>
<text transform="translate(676.97,555.608) scale(1.086,1)" font-size="35.2" font-family="'Liberation Sans', sans-serif" fill="#ff0000" text-rendering="geometricPrecision">exp.</text>
<text transform="translate(440.823,669.371) scale(1.023,1)" font-size="38.71" font-family="'Liberation Sans', sans-serif" fill="#1a1a1a" text-rendering="geometricPrecision">(degree)</text>
<text transform="translate(380.43,669.371) scale(0.966,1)" font-size="38.71" font-family="'Liberation Sans', sans-serif" fill="#1a1a1a" text-rendering="geometricPrecision">2</text>
<text transform="translate(411.707,669.371) scale(0.978,1)" font-size="38.71" font-family="'Liberation Serif', serif" fill="#1a1a1a" text-rendering="geometricPrecision" font-style="italic" stroke="#fff" stroke-width="0.6">θ</text>
<text transform="translate(71.806,430.603) rotate(-90) scale(1.052,1)" font-size="38.065" font-family="'Liberation Sans', sans-serif" fill="#1a1a1a" text-rendering="geometricPrecision">Intensity(a.u.)</text>
<text transform="translate(118.592,54.42) rotate(-90) scale(0.989,1)" font-size="30.845" font-family="'Liberation Sans', sans-serif" fill="#1a1a1a" text-rendering="geometricPrecision">003</text>
<text transform="translate(179.082,81.651) rotate(-90) scale(0.982,1)" font-size="31.831" font-family="'Liberation Sans', sans-serif" fill="#1a1a1a" text-rendering="geometricPrecision">006</text>
<text transform="translate(240.182,62.328) rotate(-90) scale(0.964,1)" font-size="31.831" font-family="'Liberation Sans', sans-serif" fill="#1a1a1a" text-rendering="geometricPrecision">009</text>
<text transform="translate(3.091,735.41) scale(0.969,1)" font-size="63.763" font-family="'Liberation Sans', sans-serif" fill="#000" text-rendering="geometricPrecision">(b)</text>
<text transform="translate(63.939,1143.164) rotate(-90) scale(1.061,1)" font-size="38.387" font-family="'Liberation Sans', sans-serif" fill="#1a1a1a" text-rendering="geometricPrecision">Intensity(a.u.)</text>
<g clip-path="url(#clipxl)"><text transform="translate(437.27,1374.671) scale(1.046,1)" font-size="38.71" font-family="'Liberation Sans', sans-serif" fill="#1a1a1a" text-rendering="geometricPrecision">(degree)</text></g>
<text transform="translate(376.154,1374.671) scale(1.005,1)" font-size="38.71" font-family="'Liberation Sans', sans-serif" fill="#1a1a1a" text-rendering="geometricPrecision">2</text>
<text transform="translate(409.031,1374.671) scale(0.966,1)" font-size="38.71" font-family="'Liberation Serif', serif" fill="#1a1a1a" text-rendering="geometricPrecision" font-style="italic" stroke="#fff" stroke-width="0.6">θ</text>
<text transform="translate(162.159,1063.786) rotate(-90) scale(0.943,1)" font-size="34.085" font-family="'Liberation Sans', sans-serif" fill="#1a1a1a" text-rendering="geometricPrecision">003</text>
<text transform="translate(422.541,1056.357) rotate(-90) scale(0.945,1)" font-size="35.915" font-family="'Liberation Sans', sans-serif" fill="#1a1a1a" text-rendering="geometricPrecision">006</text>
<text transform="translate(685.161,976.465) rotate(-90) scale(1.005,1)" font-size="33.944" font-family="'Liberation Sans', sans-serif" fill="#1a1a1a" text-rendering="geometricPrecision">009</text>
<text transform="translate(523.355,1094.024) scale(1.057,1)" font-size="38.933" font-family="'Liberation Sans', sans-serif" fill="#ff0000" text-rendering="geometricPrecision">exp.</text>
<text transform="translate(440.738,1157.4) scale(1.011,1)" font-size="34.167" font-family="'Liberation Sans', sans-serif" fill="#65289a" text-rendering="geometricPrecision">100%orderd</text>
<text transform="translate(439.967,1214.9) scale(0.971,1)" font-size="35.694" font-family="'Liberation Sans', sans-serif" fill="#1414c0" text-rendering="geometricPrecision">90%ordered</text>
<text transform="translate(440.316,1265.8) scale(0.996,1)" font-size="34.722" font-family="'Liberation Sans', sans-serif" fill="#34602a" text-rendering="geometricPrecision">80%ordered</text>
<text transform="translate(178.15,821.516) scale(1.106,1)" font-size="23.733" font-family="'Liberation Sans', sans-serif" fill="#ff0000" text-rendering="geometricPrecision">exp.</text>
<text transform="translate(172.723,987.352) scale(1.112,1)" font-size="21.183" font-family="'Liberation Sans', sans-serif" fill="#222" text-rendering="geometricPrecision">Se occupancy in Te/Se(2)</text>
<text transform="translate(126.257,880.5) rotate(-90) scale(0.793,1)" font-size="27.662" font-family="'Liberation Serif', serif" fill="#222" text-rendering="geometricPrecision"><tspan font-style="italic">I</tspan><tspan font-size="70%" dy="0.14em">006</tspan><tspan dx="0.12em" dy="-0.098em">/</tspan><tspan dx="0.12em" font-style="italic">I</tspan><tspan font-size="70%" dy="0.098em">003</tspan></text>
<text transform="translate(-1.517,1450.7) scale(0.921,1)" font-size="60" font-family="'Liberation Sans', sans-serif" fill="#000" text-rendering="geometricPrecision">(c)</text>
<text transform="translate(606.304,1537.2) scale(0.984,1)" font-size="40.556" font-family="'Liberation Sans', sans-serif" fill="#34602a" text-rendering="geometricPrecision">disordered</text>
<text transform="translate(554.31,1537.2) scale(0.834,1)" font-size="40.556" font-family="'Liberation Sans', sans-serif" fill="#34602a" text-rendering="geometricPrecision">Se</text>
<text transform="translate(710.765,1741.2) scale(1.011,1)" font-size="40.417" font-family="'Liberation Sans', sans-serif" fill="#1414c0" text-rendering="geometricPrecision">ordering</text>
<text transform="translate(554.723,1741.2) scale(1.038,1)" font-size="40.417" font-family="'Liberation Sans', sans-serif" fill="#1414c0" text-rendering="geometricPrecision">outer</text>
<text transform="translate(659.496,1741.2) scale(0.843,1)" font-size="40.417" font-family="'Liberation Sans', sans-serif" fill="#1414c0" text-rendering="geometricPrecision">Se</text>
<text transform="translate(706.748,1874.5) scale(1.032,1)" font-size="40" font-family="'Liberation Sans', sans-serif" fill="#65289a" text-rendering="geometricPrecision">ordering</text>
<text transform="translate(555.038,1874.5) scale(1.022,1)" font-size="40" font-family="'Liberation Sans', sans-serif" fill="#65289a" text-rendering="geometricPrecision">inner</text>
<text transform="translate(655.841,1874.5) scale(0.83,1)" font-size="40" font-family="'Liberation Sans', sans-serif" fill="#65289a" text-rendering="geometricPrecision">Se</text>
<text transform="translate(658.425,1972.444) scale(1.066,1)" font-size="36.933" font-family="'Liberation Sans', sans-serif" fill="#ff0000" text-rendering="geometricPrecision">exp.</text>
<text transform="translate(433.346,2066.716) scale(1.063,1)" font-size="38.495" font-family="'Liberation Sans', sans-serif" fill="#1a1a1a" text-rendering="geometricPrecision">(degree)</text>
<text transform="translate(372.352,2066.716) scale(0.96,1)" font-size="38.495" font-family="'Liberation Sans', sans-serif" fill="#1a1a1a" text-rendering="geometricPrecision">2</text>
<text transform="translate(403.831,2066.716) scale(0.971,1)" font-size="38.495" font-family="'Liberation Serif', serif" fill="#1a1a1a" text-rendering="geometricPrecision" font-style="italic" stroke="#fff" stroke-width="0.6">θ</text>
<text transform="translate(56.648,1880.857) rotate(-90) scale(1.247,1)" font-size="38.817" font-family="'Liberation Sans', sans-serif" fill="#1a1a1a" text-rendering="geometricPrecision">Intensity(a.u.)</text>
<text transform="translate(104.67,1456.099) rotate(-90) scale(0.985,1)" font-size="32.958" font-family="'Liberation Sans', sans-serif" fill="#1a1a1a" text-rendering="geometricPrecision">003</text>
<text transform="translate(166.666,1533.873) rotate(-90) scale(0.954,1)" font-size="33.38" font-family="'Liberation Sans', sans-serif" fill="#1a1a1a" text-rendering="geometricPrecision">006</text>
<text transform="translate(228.773,1503.496) rotate(-90) scale(0.992,1)" font-size="32.676" font-family="'Liberation Sans', sans-serif" fill="#1a1a1a" text-rendering="geometricPrecision">009</text>
<text transform="translate(134.474,749.145) scale(1.053,1)" font-size="15.493" font-family="'Liberation Sans', sans-serif" fill="#3a3a3a" text-rendering="geometricPrecision" font-weight="bold">4.0</text>
<text transform="translate(134.307,799.439) scale(1.024,1)" font-size="16.056" font-family="'Liberation Sans', sans-serif" fill="#3a3a3a" text-rendering="geometricPrecision" font-weight="bold">3.0</text>
<text transform="translate(134.307,849.044) scale(1.052,1)" font-size="15.634" font-family="'Liberation Sans', sans-serif" fill="#3a3a3a" text-rendering="geometricPrecision" font-weight="bold">2.0</text>
<text transform="translate(133.791,899.349) scale(1.116,1)" font-size="15.07" font-family="'Liberation Sans', sans-serif" fill="#3a3a3a" text-rendering="geometricPrecision" font-weight="bold">1.0</text>
<text transform="translate(123.739,625.514) scale(1.001,1)" font-family="'Liberation Sans', sans-serif" font-size="28.592" fill="#1a1a1a" text-rendering="geometricPrecision">10</text>
<text transform="translate(216.169,625.514) scale(1.001,1)" font-family="'Liberation Sans', sans-serif" font-size="28.592" fill="#1a1a1a" text-rendering="geometricPrecision">20</text>
<text transform="translate(308.312,625.514) scale(1.001,1)" font-family="'Liberation Sans', sans-serif" font-size="28.592" fill="#1a1a1a" text-rendering="geometricPrecision">30</text>
<text transform="translate(400.598,625.514) scale(1.001,1)" font-family="'Liberation Sans', sans-serif" font-size="28.592" fill="#1a1a1a" text-rendering="geometricPrecision">40</text>
<text transform="translate(492.312,625.514) scale(1.001,1)" font-family="'Liberation Sans', sans-serif" font-size="28.592" fill="#1a1a1a" text-rendering="geometricPrecision">50</text>
<text transform="translate(584.169,625.514) scale(1.001,1)" font-family="'Liberation Sans', sans-serif" font-size="28.592" fill="#1a1a1a" text-rendering="geometricPrecision">60</text>
<text transform="translate(676.169,625.514) scale(1.001,1)" font-family="'Liberation Sans', sans-serif" font-size="28.592" fill="#1a1a1a" text-rendering="geometricPrecision">70</text>
<text transform="translate(768.312,625.514) scale(1.001,1)" font-family="'Liberation Sans', sans-serif" font-size="28.592" fill="#1a1a1a" text-rendering="geometricPrecision">80</text>
<text transform="translate(860.169,625.514) scale(1.001,1)" font-family="'Liberation Sans', sans-serif" font-size="28.592" fill="#1a1a1a" text-rendering="geometricPrecision">90</text>
<text transform="translate(78.874,1331.31) scale(0.994,1)" font-family="'Liberation Sans', sans-serif" font-size="29" fill="#1a1a1a" text-rendering="geometricPrecision">5</text>
<text transform="translate(268.026,1331.314) scale(1.008,1)" font-family="'Liberation Sans', sans-serif" font-size="28.592" fill="#1a1a1a" text-rendering="geometricPrecision">10</text>
<text transform="translate(465.826,1331.31) scale(0.994,1)" font-family="'Liberation Sans', sans-serif" font-size="29" fill="#1a1a1a" text-rendering="geometricPrecision">15</text>
<text transform="translate(664.059,1331.314) scale(1.008,1)" font-family="'Liberation Sans', sans-serif" font-size="28.592" fill="#1a1a1a" text-rendering="geometricPrecision">20</text>
<text transform="translate(861.859,1331.314) scale(1.008,1)" font-family="'Liberation Sans', sans-serif" font-size="28.592" fill="#1a1a1a" text-rendering="geometricPrecision">25</text>
<text transform="translate(109.145,2023.01) scale(1.01,1)" font-family="'Liberation Sans', sans-serif" font-size="29.014" fill="#1a1a1a" text-rendering="geometricPrecision">10</text>
<text transform="translate(203.654,2023.01) scale(1.01,1)" font-family="'Liberation Sans', sans-serif" font-size="29.014" fill="#1a1a1a" text-rendering="geometricPrecision">20</text>
<text transform="translate(297.871,2023.01) scale(1.01,1)" font-family="'Liberation Sans', sans-serif" font-size="29.014" fill="#1a1a1a" text-rendering="geometricPrecision">30</text>
<text transform="translate(392.234,2023.01) scale(1.01,1)" font-family="'Liberation Sans', sans-serif" font-size="29.014" fill="#1a1a1a" text-rendering="geometricPrecision">40</text>
<text transform="translate(486.011,2023.01) scale(1.01,1)" font-family="'Liberation Sans', sans-serif" font-size="29.014" fill="#1a1a1a" text-rendering="geometricPrecision">50</text>
<text transform="translate(579.934,2023.01) scale(1.01,1)" font-family="'Liberation Sans', sans-serif" font-size="29.014" fill="#1a1a1a" text-rendering="geometricPrecision">60</text>
<text transform="translate(674.004,2023.01) scale(1.01,1)" font-family="'Liberation Sans', sans-serif" font-size="29.014" fill="#1a1a1a" text-rendering="geometricPrecision">70</text>
<text transform="translate(768.221,2023.01) scale(1.01,1)" font-family="'Liberation Sans', sans-serif" font-size="29.014" fill="#1a1a1a" text-rendering="geometricPrecision">80</text>
<text transform="translate(862.144,2023.01) scale(1.01,1)" font-family="'Liberation Sans', sans-serif" font-size="29.014" fill="#1a1a1a" text-rendering="geometricPrecision">90</text>
<text transform="translate(146.688,964.08) scale(1.072,1)" font-family="'Liberation Sans', sans-serif" font-size="22" fill="#222" text-rendering="geometricPrecision">75</text>
<text transform="translate(195.676,964.083) scale(1.088,1)" font-family="'Liberation Sans', sans-serif" font-size="21.69" fill="#222" text-rendering="geometricPrecision">80</text>
<text transform="translate(244.546,964.083) scale(1.088,1)" font-family="'Liberation Sans', sans-serif" font-size="21.69" fill="#222" text-rendering="geometricPrecision">85</text>
<text transform="translate(293.298,964.083) scale(1.088,1)" font-family="'Liberation Sans', sans-serif" font-size="21.69" fill="#222" text-rendering="geometricPrecision">90</text>
<text transform="translate(342.168,964.083) scale(1.088,1)" font-family="'Liberation Sans', sans-serif" font-size="21.69" fill="#222" text-rendering="geometricPrecision">95</text>
<text transform="translate(384.079,964.083) scale(1.088,1)" font-family="'Liberation Sans', sans-serif" font-size="21.69" fill="#222" text-rendering="geometricPrecision">100</text>
</g>
</svg>
</body></html>
